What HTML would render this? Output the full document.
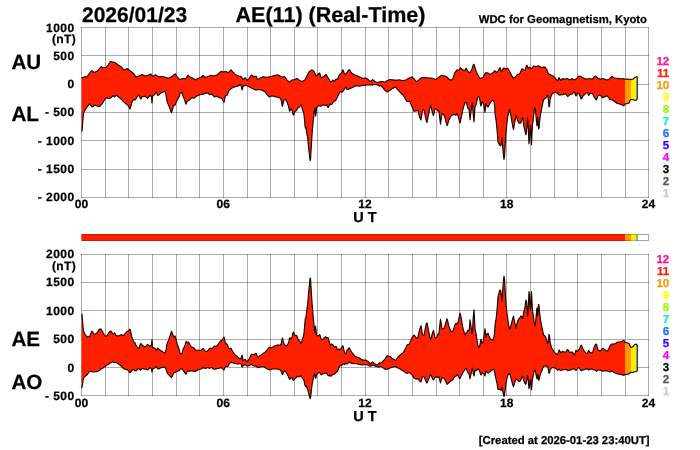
<!DOCTYPE html>
<html><head><meta charset="utf-8"><title>AE(11) Real-Time</title>
<style>
html,body{margin:0;padding:0;background:#fff;}
body{width:700px;height:450px;overflow:hidden;font-family:"Liberation Sans",sans-serif;}
svg{display:block;will-change:transform;}
</style></head><body>
<svg width="700" height="450" viewBox="0 0 700 450">
<rect x="0" y="0" width="700" height="450" fill="#ffffff"/>
<g stroke="#000" stroke-opacity="0.32" stroke-width="1" shape-rendering="crispEdges"><line x1="81.5" y1="27" x2="81.5" y2="198"/><line x1="105.5" y1="27" x2="105.5" y2="198"/><line x1="128.5" y1="27" x2="128.5" y2="198"/><line x1="152.5" y1="27" x2="152.5" y2="198"/><line x1="176.5" y1="27" x2="176.5" y2="198"/><line x1="199.5" y1="27" x2="199.5" y2="198"/><line x1="223.5" y1="27" x2="223.5" y2="198"/><line x1="247.5" y1="27" x2="247.5" y2="198"/><line x1="270.5" y1="27" x2="270.5" y2="198"/><line x1="294.5" y1="27" x2="294.5" y2="198"/><line x1="317.5" y1="27" x2="317.5" y2="198"/><line x1="341.5" y1="27" x2="341.5" y2="198"/><line x1="365.5" y1="27" x2="365.5" y2="198"/><line x1="388.5" y1="27" x2="388.5" y2="198"/><line x1="412.5" y1="27" x2="412.5" y2="198"/><line x1="436.5" y1="27" x2="436.5" y2="198"/><line x1="459.5" y1="27" x2="459.5" y2="198"/><line x1="483.5" y1="27" x2="483.5" y2="198"/><line x1="506.5" y1="27" x2="506.5" y2="198"/><line x1="530.5" y1="27" x2="530.5" y2="198"/><line x1="554.5" y1="27" x2="554.5" y2="198"/><line x1="577.5" y1="27" x2="577.5" y2="198"/><line x1="601.5" y1="27" x2="601.5" y2="198"/><line x1="625.5" y1="27" x2="625.5" y2="198"/><line x1="648.5" y1="27" x2="648.5" y2="198"/><line x1="81" y1="27.5" x2="649" y2="27.5"/><line x1="81" y1="55.5" x2="649" y2="55.5"/><line x1="81" y1="84.5" x2="649" y2="84.5"/><line x1="81" y1="112.5" x2="649" y2="112.5"/><line x1="81" y1="140.5" x2="649" y2="140.5"/><line x1="81" y1="169.5" x2="649" y2="169.5"/><line x1="81" y1="197.5" x2="649" y2="197.5"/></g>
<g stroke="#000" stroke-opacity="0.32" stroke-width="1" shape-rendering="crispEdges"><line x1="81.5" y1="254" x2="81.5" y2="396"/><line x1="105.5" y1="254" x2="105.5" y2="396"/><line x1="128.5" y1="254" x2="128.5" y2="396"/><line x1="152.5" y1="254" x2="152.5" y2="396"/><line x1="176.5" y1="254" x2="176.5" y2="396"/><line x1="199.5" y1="254" x2="199.5" y2="396"/><line x1="223.5" y1="254" x2="223.5" y2="396"/><line x1="247.5" y1="254" x2="247.5" y2="396"/><line x1="270.5" y1="254" x2="270.5" y2="396"/><line x1="294.5" y1="254" x2="294.5" y2="396"/><line x1="317.5" y1="254" x2="317.5" y2="396"/><line x1="341.5" y1="254" x2="341.5" y2="396"/><line x1="365.5" y1="254" x2="365.5" y2="396"/><line x1="388.5" y1="254" x2="388.5" y2="396"/><line x1="412.5" y1="254" x2="412.5" y2="396"/><line x1="436.5" y1="254" x2="436.5" y2="396"/><line x1="459.5" y1="254" x2="459.5" y2="396"/><line x1="483.5" y1="254" x2="483.5" y2="396"/><line x1="506.5" y1="254" x2="506.5" y2="396"/><line x1="530.5" y1="254" x2="530.5" y2="396"/><line x1="554.5" y1="254" x2="554.5" y2="396"/><line x1="577.5" y1="254" x2="577.5" y2="396"/><line x1="601.5" y1="254" x2="601.5" y2="396"/><line x1="625.5" y1="254" x2="625.5" y2="396"/><line x1="648.5" y1="254" x2="648.5" y2="396"/><line x1="81" y1="254.5" x2="649" y2="254.5"/><line x1="81" y1="282.5" x2="649" y2="282.5"/><line x1="81" y1="310.5" x2="649" y2="310.5"/><line x1="81" y1="339.5" x2="649" y2="339.5"/><line x1="81" y1="367.5" x2="649" y2="367.5"/><line x1="81" y1="395.5" x2="649" y2="395.5"/></g>
<polygon points="81.5,78.0 82.0,77.8 82.5,77.6 83.0,77.4 83.5,77.2 84.0,77.0 84.5,76.8 85.0,76.8 85.5,76.8 86.0,76.8 86.5,76.8 87.0,76.8 87.5,76.0 88.0,75.3 88.5,74.5 89.0,73.9 89.5,73.3 90.0,72.6 90.5,72.0 91.0,71.4 91.5,70.8 92.0,70.8 92.5,71.2 93.0,71.6 93.5,72.0 94.0,72.4 94.5,72.2 95.0,72.1 95.5,71.9 96.0,71.7 96.5,71.5 97.0,71.4 97.5,70.9 98.0,70.3 98.5,69.7 99.0,69.1 99.5,68.5 100.0,67.9 100.5,67.3 101.0,66.7 101.5,66.9 102.0,67.1 102.5,67.4 103.0,67.6 103.5,67.7 104.0,67.7 104.5,67.6 105.0,67.5 105.5,67.5 106.0,67.1 106.5,66.6 107.0,66.1 107.5,65.6 108.0,65.1 108.5,64.3 109.0,63.6 109.5,62.8 110.0,62.0 110.5,61.6 111.0,61.7 111.5,61.8 112.0,61.9 112.5,62.0 113.0,62.1 113.5,62.2 114.0,62.3 114.5,62.4 115.0,62.5 115.5,62.9 116.0,63.3 116.5,63.7 117.0,64.2 117.5,64.6 118.0,65.0 118.5,65.3 119.0,65.6 119.5,65.8 120.0,66.1 120.5,66.3 121.0,66.6 121.5,67.0 122.0,67.7 122.5,68.4 123.0,69.0 123.5,69.7 124.0,69.6 124.5,69.5 125.0,69.4 125.5,69.2 126.0,69.1 126.5,68.9 127.0,68.8 127.5,68.7 128.0,69.1 128.5,69.5 129.0,69.9 129.5,70.3 130.0,70.7 130.5,71.1 131.0,71.5 131.5,71.9 132.0,72.3 132.5,72.7 133.0,73.1 133.5,73.5 134.0,74.2 134.5,74.9 135.0,75.6 135.5,76.4 136.0,77.1 136.5,76.9 137.0,76.7 137.5,76.6 138.0,76.4 138.5,76.2 139.0,76.0 139.5,75.8 140.0,75.5 140.5,75.3 141.0,75.0 141.5,74.8 142.0,74.5 142.5,74.6 143.0,75.0 143.5,75.3 144.0,75.6 144.5,76.0 145.0,75.9 145.5,75.8 146.0,75.7 146.5,75.6 147.0,75.5 147.5,75.4 148.0,75.3 148.5,75.2 149.0,74.9 149.5,74.6 150.0,74.4 150.5,74.1 151.0,74.2 151.5,74.8 152.0,75.3 152.5,75.8 153.0,76.4 153.5,76.2 154.0,75.8 154.5,75.4 155.0,75.1 155.5,74.8 156.0,75.1 156.5,75.4 157.0,75.8 157.5,76.1 158.0,76.4 158.5,76.7 159.0,76.7 159.5,76.7 160.0,76.6 160.5,76.6 161.0,76.5 161.5,76.5 162.0,76.5 162.5,76.6 163.0,76.7 163.5,76.8 164.0,76.9 164.5,77.0 165.0,77.2 165.5,77.3 166.0,77.5 166.5,77.6 167.0,77.8 167.5,78.0 168.0,78.1 168.5,78.3 169.0,78.1 169.5,77.8 170.0,77.5 170.5,77.2 171.0,76.9 171.5,76.6 172.0,76.3 172.5,76.0 173.0,75.6 173.5,75.1 174.0,74.7 174.5,74.3 175.0,73.8 175.5,74.2 176.0,74.9 176.5,75.7 177.0,76.5 177.5,77.1 178.0,77.6 178.5,78.2 179.0,78.7 179.5,79.2 180.0,79.6 180.5,79.4 181.0,79.2 181.5,79.0 182.0,78.8 182.5,78.6 183.0,78.4 183.5,78.5 184.0,78.6 184.5,78.8 185.0,79.0 185.5,79.0 186.0,78.3 186.5,77.6 187.0,76.8 187.5,76.1 188.0,75.3 188.5,75.6 189.0,76.1 189.5,76.5 190.0,77.0 190.5,77.2 191.0,77.4 191.5,77.6 192.0,77.8 192.5,78.1 193.0,78.4 193.5,78.7 194.0,79.0 194.5,79.3 195.0,79.6 195.5,79.9 196.0,79.6 196.5,79.3 197.0,78.9 197.5,78.6 198.0,78.3 198.5,78.2 199.0,78.0 199.5,77.9 200.0,77.8 200.5,77.7 201.0,77.5 201.5,77.0 202.0,76.5 202.5,76.0 203.0,75.5 203.5,75.5 204.0,76.2 204.5,77.0 205.0,77.5 205.5,77.3 206.0,77.2 206.5,77.0 207.0,76.8 207.5,76.6 208.0,76.5 208.5,76.3 209.0,76.1 209.5,75.9 210.0,75.7 210.5,75.5 211.0,75.3 211.5,75.3 212.0,75.5 212.5,75.7 213.0,75.8 213.5,76.0 214.0,75.8 214.5,75.7 215.0,75.6 215.5,75.4 216.0,75.3 216.5,75.1 217.0,75.0 217.5,74.7 218.0,74.2 218.5,73.7 219.0,73.1 219.5,72.6 220.0,72.2 220.5,71.8 221.0,71.5 221.5,71.4 222.0,71.6 222.5,71.8 223.0,71.9 223.5,72.1 224.0,72.0 224.5,71.8 225.0,71.6 225.5,71.5 226.0,71.4 226.5,71.7 227.0,72.1 227.5,72.4 228.0,72.7 228.5,72.6 229.0,72.0 229.5,71.5 230.0,70.9 230.5,70.3 231.0,69.8 231.5,70.4 232.0,71.0 232.5,71.6 233.0,72.2 233.5,72.7 234.0,73.2 234.5,73.7 235.0,74.2 235.5,74.6 236.0,74.8 236.5,75.1 237.0,75.3 237.5,75.6 238.0,75.8 238.5,76.0 239.0,76.2 239.5,76.3 240.0,76.4 240.5,76.5 241.0,76.7 241.5,76.9 242.0,77.8 242.5,78.7 243.0,79.6 243.5,79.1 244.0,78.7 244.5,78.3 245.0,77.8 245.5,77.9 246.0,78.7 246.5,79.5 247.0,80.4 247.5,80.3 248.0,79.7 248.5,79.1 249.0,78.6 249.5,77.9 250.0,77.2 250.5,76.4 251.0,75.7 251.5,75.0 252.0,75.3 252.5,75.7 253.0,76.1 253.5,76.5 254.0,76.7 254.5,76.6 255.0,76.4 255.5,76.2 256.0,76.1 256.5,76.7 257.0,78.0 257.5,79.2 258.0,79.7 258.5,79.3 259.0,78.9 259.5,78.5 260.0,78.1 260.5,77.9 261.0,77.7 261.5,77.5 262.0,77.3 262.5,77.1 263.0,76.9 263.5,76.8 264.0,76.9 264.5,77.0 265.0,77.0 265.5,77.1 266.0,77.2 266.5,77.2 267.0,77.2 267.5,77.1 268.0,77.0 268.5,77.0 269.0,76.9 269.5,76.9 270.0,76.8 270.5,76.7 271.0,76.5 271.5,76.4 272.0,76.2 272.5,76.0 273.0,75.9 273.5,75.7 274.0,75.6 274.5,75.4 275.0,75.3 275.5,75.2 276.0,75.1 276.5,75.0 277.0,74.9 277.5,75.0 278.0,75.1 278.5,75.3 279.0,75.4 279.5,75.5 280.0,76.0 280.5,76.2 281.0,76.5 281.5,76.7 282.0,76.9 282.5,77.1 283.0,77.0 283.5,76.9 284.0,76.9 284.5,76.8 285.0,77.2 285.5,77.9 286.0,78.6 286.5,79.2 287.0,79.9 287.5,80.5 288.0,81.0 288.5,81.6 289.0,82.2 289.5,81.8 290.0,81.5 290.5,81.1 291.0,80.7 291.5,80.3 292.0,80.1 292.5,80.0 293.0,79.9 293.5,79.8 294.0,79.7 294.5,79.6 295.0,79.5 295.5,79.2 296.0,78.9 296.5,78.7 297.0,78.4 297.5,78.7 298.0,79.2 298.5,79.7 299.0,80.2 299.5,80.7 300.0,80.8 300.5,80.9 301.0,81.1 301.5,81.2 302.0,81.3 302.5,81.4 303.0,81.1 303.5,80.8 304.0,80.5 304.5,80.1 305.0,79.7 305.5,78.7 306.0,77.7 306.5,76.7 307.0,75.7 307.5,74.7 308.0,73.9 308.5,73.1 309.0,72.2 309.5,71.4 310.0,71.0 310.5,70.7 311.0,70.4 311.5,70.0 312.0,69.9 312.5,70.3 313.0,70.6 313.5,71.0 314.0,71.5 314.5,72.6 315.0,73.7 315.5,74.8 316.0,75.8 316.5,75.7 317.0,75.3 317.5,74.9 318.0,74.5 318.5,74.0 319.0,73.5 319.5,73.0 320.0,74.0 320.5,75.7 321.0,77.3 321.5,77.8 322.0,77.5 322.5,77.2 323.0,76.8 323.5,76.5 324.0,76.1 324.5,75.6 325.0,75.2 325.5,74.8 326.0,74.6 326.5,75.4 327.0,76.2 327.5,76.9 328.0,77.7 328.5,78.5 329.0,79.4 329.5,80.3 330.0,81.2 330.5,82.1 331.0,81.8 331.5,81.3 332.0,80.8 332.5,80.3 333.0,80.0 333.5,80.7 334.0,81.3 334.5,81.0 335.0,80.3 335.5,79.7 336.0,79.1 336.5,79.3 337.0,79.4 337.5,79.6 338.0,78.3 338.5,76.9 339.0,75.5 339.5,74.8 340.0,74.3 340.5,73.8 341.0,73.3 341.5,72.7 342.0,71.7 342.5,70.7 343.0,69.8 343.5,71.3 344.0,72.8 344.5,74.3 345.0,74.1 345.5,73.8 346.0,73.5 346.5,73.1 347.0,72.7 347.5,71.9 348.0,71.2 348.5,70.4 349.0,69.6 349.5,69.8 350.0,70.5 350.5,71.3 351.0,72.1 351.5,72.8 352.0,73.2 352.5,73.5 353.0,73.8 353.5,74.2 354.0,74.5 354.5,74.8 355.0,75.0 355.5,75.2 356.0,75.4 356.5,75.6 357.0,75.8 357.5,76.0 358.0,76.2 358.5,76.4 359.0,76.7 359.5,76.9 360.0,77.2 360.5,77.4 361.0,77.6 361.5,77.9 362.0,78.1 362.5,78.3 363.0,78.3 363.5,78.2 364.0,78.2 364.5,78.1 365.0,78.1 365.5,78.0 366.0,78.2 366.5,78.5 367.0,78.7 367.5,78.9 368.0,79.3 368.5,79.8 369.0,80.4 369.5,81.0 370.0,81.5 370.5,81.5 371.0,81.0 371.5,80.5 372.0,80.1 372.5,79.6 373.0,79.9 373.5,80.3 374.0,80.7 374.5,81.1 375.0,81.5 375.5,81.8 376.0,82.0 376.5,82.3 377.0,82.6 377.5,82.6 378.0,82.4 378.5,82.2 379.0,82.0 379.5,81.8 380.0,81.7 380.5,81.7 381.0,81.6 381.5,81.5 382.0,81.5 382.5,81.5 383.0,81.7 383.5,81.8 384.0,82.0 384.5,82.2 385.0,82.0 385.5,81.7 386.0,81.3 386.5,81.0 387.0,80.7 387.5,80.5 388.0,80.3 388.5,80.1 389.0,80.0 389.5,79.8 390.0,79.6 390.5,79.6 391.0,79.7 391.5,79.7 392.0,79.8 392.5,79.8 393.0,79.9 393.5,79.9 394.0,80.0 394.5,80.0 395.0,80.1 395.5,80.1 396.0,80.2 396.5,80.2 397.0,80.1 397.5,80.1 398.0,80.0 398.5,80.0 399.0,79.9 399.5,79.9 400.0,80.0 400.5,80.1 401.0,80.3 401.5,80.4 402.0,80.5 402.5,80.6 403.0,80.6 403.5,80.5 404.0,80.4 404.5,80.4 405.0,80.3 405.5,80.2 406.0,80.0 406.5,79.6 407.0,79.3 407.5,79.0 408.0,78.6 408.5,78.4 409.0,78.2 409.5,77.9 410.0,77.7 410.5,77.5 411.0,77.2 411.5,77.0 412.0,76.9 412.5,77.4 413.0,77.9 413.5,78.4 414.0,78.9 414.5,79.5 415.0,80.0 415.5,80.6 416.0,81.1 416.5,81.7 417.0,81.4 417.5,81.0 418.0,80.6 418.5,80.2 419.0,79.8 419.5,79.4 420.0,79.0 420.5,78.5 421.0,78.1 421.5,77.7 422.0,77.6 422.5,77.6 423.0,77.6 423.5,77.6 424.0,77.6 424.5,77.6 425.0,77.6 425.5,77.6 426.0,77.7 426.5,77.8 427.0,77.8 427.5,77.9 428.0,78.0 428.5,78.0 429.0,78.0 429.5,78.0 430.0,78.0 430.5,78.0 431.0,78.0 431.5,78.1 432.0,78.2 432.5,78.3 433.0,78.5 433.5,78.6 434.0,78.8 434.5,79.0 435.0,79.3 435.5,79.5 436.0,79.3 436.5,78.9 437.0,78.6 437.5,78.2 438.0,77.8 438.5,77.4 439.0,77.0 439.5,76.7 440.0,76.3 440.5,75.9 441.0,75.5 441.5,75.2 442.0,75.4 442.5,75.5 443.0,75.6 443.5,75.7 444.0,75.9 444.5,76.0 445.0,76.1 445.5,76.3 446.0,76.5 446.5,76.6 447.0,76.9 447.5,77.5 448.0,78.1 448.5,78.7 449.0,79.3 449.5,79.7 450.0,79.8 450.5,79.9 451.0,80.1 451.5,80.2 452.0,79.6 452.5,79.0 453.0,78.4 453.5,76.9 454.0,75.2 454.5,73.4 455.0,72.4 455.5,71.8 456.0,71.1 456.5,70.4 457.0,69.8 457.5,70.0 458.0,70.3 458.5,70.5 459.0,69.9 459.5,69.2 460.0,68.5 460.5,67.8 461.0,68.2 461.5,68.8 462.0,69.3 462.5,69.8 463.0,70.0 463.5,70.1 464.0,70.3 464.5,70.5 465.0,70.1 465.5,69.2 466.0,68.2 466.5,69.0 467.0,69.9 467.5,70.7 468.0,71.5 468.5,72.0 469.0,72.5 469.5,72.8 470.0,72.1 470.5,71.5 471.0,70.8 471.5,70.1 472.0,69.0 472.5,67.5 473.0,66.0 473.5,64.4 474.0,64.3 474.5,66.0 475.0,67.6 475.5,69.3 476.0,70.7 476.5,71.9 477.0,73.2 477.5,74.2 478.0,75.0 478.5,75.9 479.0,76.8 479.5,77.6 480.0,78.3 480.5,78.2 481.0,78.1 481.5,78.0 482.0,77.8 482.5,77.7 483.0,77.6 483.5,76.8 484.0,75.8 484.5,74.8 485.0,73.8 485.5,72.9 486.0,72.9 486.5,72.9 487.0,72.9 487.5,72.9 488.0,73.0 488.5,73.4 489.0,73.7 489.5,74.0 490.0,74.4 490.5,74.3 491.0,74.0 491.5,73.8 492.0,73.6 492.5,73.3 493.0,72.7 493.5,72.1 494.0,71.5 494.5,70.9 495.0,70.8 495.5,71.4 496.0,72.0 496.5,72.3 497.0,71.9 497.5,71.6 498.0,71.1 498.5,70.1 499.0,69.2 499.5,68.2 500.0,67.7 500.5,68.8 501.0,70.0 501.5,71.2 502.0,71.3 502.5,70.2 503.0,69.1 503.5,68.1 504.0,68.0 504.5,68.3 505.0,68.6 505.5,68.9 506.0,68.9 506.5,68.7 507.0,68.5 507.5,68.3 508.0,68.7 508.5,69.6 509.0,70.4 509.5,71.2 510.0,72.2 510.5,73.2 511.0,74.2 511.5,75.2 512.0,76.2 512.5,76.9 513.0,77.7 513.5,78.3 514.0,77.9 514.5,77.5 515.0,77.1 515.5,76.7 516.0,76.1 516.5,75.5 517.0,74.8 517.5,74.4 518.0,74.3 518.5,74.2 519.0,74.1 519.5,74.0 520.0,73.2 520.5,72.1 521.0,71.0 521.5,69.9 522.0,68.7 522.5,69.0 523.0,69.4 523.5,69.7 524.0,70.0 524.5,70.3 525.0,70.5 525.5,69.0 526.0,67.1 526.5,65.2 527.0,65.4 527.5,66.6 528.0,67.7 528.5,68.0 529.0,67.7 529.5,67.3 530.0,67.4 530.5,68.0 531.0,68.6 531.5,68.8 532.0,68.1 532.5,67.4 533.0,66.8 533.5,66.1 534.0,66.0 534.5,66.2 535.0,66.3 535.5,66.5 536.0,66.7 536.5,66.4 537.0,66.2 537.5,66.0 538.0,65.7 538.5,65.7 539.0,66.1 539.5,66.5 540.0,66.9 540.5,67.3 541.0,67.4 541.5,67.3 542.0,67.3 542.5,67.2 543.0,67.1 543.5,67.1 544.0,67.1 544.5,67.1 545.0,67.1 545.5,67.8 546.0,68.5 546.5,69.2 547.0,70.3 547.5,71.5 548.0,72.7 548.5,73.7 549.0,74.0 549.5,74.2 550.0,74.5 550.5,74.8 551.0,75.0 551.5,75.3 552.0,75.5 552.5,75.7 553.0,76.0 553.5,76.4 554.0,76.9 554.5,77.4 555.0,77.9 555.5,78.4 556.0,79.0 556.5,79.6 557.0,80.2 557.5,80.8 558.0,80.4 558.5,79.0 559.0,77.6 559.5,78.4 560.0,79.2 560.5,80.0 561.0,80.5 561.5,79.8 562.0,79.2 562.5,78.7 563.0,78.8 563.5,78.9 564.0,79.0 564.5,79.1 565.0,79.0 565.5,78.9 566.0,78.7 566.5,78.5 567.0,78.4 567.5,78.6 568.0,78.9 568.5,79.3 569.0,79.6 569.5,79.9 570.0,79.6 570.5,79.4 571.0,79.2 571.5,79.0 572.0,78.8 572.5,78.7 573.0,79.0 573.5,79.3 574.0,79.5 574.5,79.8 575.0,79.7 575.5,79.3 576.0,79.0 576.5,78.7 577.0,78.3 577.5,77.6 578.0,76.8 578.5,76.1 579.0,76.1 579.5,76.2 580.0,76.3 580.5,76.4 581.0,76.5 581.5,76.9 582.0,77.2 582.5,77.5 583.0,77.9 583.5,78.1 584.0,78.4 584.5,78.6 585.0,78.8 585.5,79.1 586.0,79.0 586.5,79.0 587.0,78.9 587.5,78.8 588.0,78.7 588.5,78.7 589.0,78.7 589.5,78.7 590.0,78.8 590.5,78.9 591.0,78.9 591.5,79.0 592.0,79.0 592.5,79.1 593.0,78.4 593.5,77.7 594.0,76.9 594.5,76.6 595.0,76.3 595.5,76.1 596.0,76.3 596.5,76.8 597.0,77.3 597.5,77.8 598.0,78.3 598.5,78.5 599.0,78.7 599.5,78.8 600.0,79.0 600.5,79.1 601.0,79.0 601.5,78.9 602.0,78.9 602.5,78.8 603.0,78.7 603.5,78.7 604.0,78.9 604.5,79.1 605.0,79.3 605.5,79.5 606.0,79.7 606.5,79.9 607.0,79.8 607.5,79.8 608.0,79.7 608.5,79.6 609.0,79.4 609.5,78.8 610.0,78.1 610.5,77.5 611.0,77.2 611.5,76.8 612.0,76.5 612.5,76.8 613.0,77.1 613.5,77.5 614.0,77.8 614.5,78.0 615.0,78.1 615.5,78.2 616.0,78.2 616.5,78.3 617.0,78.4 617.5,78.4 618.0,78.5 618.5,78.5 619.0,78.6 619.5,78.6 620.0,78.7 620.5,78.7 621.0,78.7 621.5,78.7 622.0,78.8 622.5,78.8 623.0,78.8 623.5,78.9 624.0,78.9 624.5,79.0 625.0,79.1 625.0,104.3 624.5,104.9 624.0,105.6 623.5,105.9 623.0,105.5 622.5,105.1 622.0,104.7 621.5,104.6 621.0,104.4 620.5,104.2 620.0,104.1 619.5,103.9 619.0,103.8 618.5,103.7 618.0,103.6 617.5,103.5 617.0,103.2 616.5,102.9 616.0,102.6 615.5,102.2 615.0,101.9 614.5,101.5 614.0,101.1 613.5,100.7 613.0,100.3 612.5,100.0 612.0,99.9 611.5,99.8 611.0,99.7 610.5,99.5 610.0,99.4 609.5,99.1 609.0,98.3 608.5,97.5 608.0,96.8 607.5,96.0 607.0,95.9 606.5,96.1 606.0,96.3 605.5,96.5 605.0,96.7 604.5,96.9 604.0,97.1 603.5,97.4 603.0,97.6 602.5,97.6 602.0,97.0 601.5,96.5 601.0,95.9 600.5,95.3 600.0,95.2 599.5,95.3 599.0,95.5 598.5,95.6 598.0,95.7 597.5,97.1 597.0,98.5 596.5,99.9 596.0,99.6 595.5,98.9 595.0,98.3 594.5,97.6 594.0,96.6 593.5,95.5 593.0,94.5 592.5,93.6 592.0,93.5 591.5,93.4 591.0,93.3 590.5,93.2 590.0,93.5 589.5,94.3 589.0,95.2 588.5,95.3 588.0,93.9 587.5,92.5 587.0,92.6 586.5,92.9 586.0,93.3 585.5,93.6 585.0,94.1 584.5,94.6 584.0,95.0 583.5,95.5 583.0,96.1 582.5,97.0 582.0,97.9 581.5,98.8 581.0,98.7 580.5,97.3 580.0,95.8 579.5,94.4 579.0,93.7 578.5,93.5 578.0,93.3 577.5,93.1 577.0,94.0 576.5,95.0 576.0,96.0 575.5,95.0 575.0,93.5 574.5,92.0 574.0,92.0 573.5,92.5 573.0,93.1 572.5,93.7 572.0,94.0 571.5,94.1 571.0,94.3 570.5,94.5 570.0,94.6 569.5,94.8 569.0,95.3 568.5,95.9 568.0,96.5 567.5,96.2 567.0,95.6 566.5,95.0 566.0,94.4 565.5,93.9 565.0,94.0 564.5,94.1 564.0,94.3 563.5,94.4 563.0,94.5 562.5,94.6 562.0,94.7 561.5,94.8 561.0,94.9 560.5,94.9 560.0,95.0 559.5,95.1 559.0,94.8 558.5,94.3 558.0,93.8 557.5,93.4 557.0,93.1 556.5,92.7 556.0,92.4 555.5,92.1 555.0,92.2 554.5,92.4 554.0,92.7 553.5,92.9 553.0,93.2 552.5,93.7 552.0,94.2 551.5,94.8 551.0,96.5 550.5,98.3 550.0,100.0 549.5,105.9 549.0,107.0 548.5,101.0 548.0,97.1 547.5,95.0 547.0,96.0 546.5,97.0 546.0,97.8 545.5,98.2 545.0,98.5 544.5,98.8 544.0,99.2 543.5,99.9 543.0,102.2 542.5,104.7 542.0,107.2 541.5,109.7 541.0,112.2 540.5,114.8 540.0,118.4 539.5,122.2 539.0,128.2 538.5,128.9 538.0,120.2 537.5,117.3 537.0,125.8 536.5,121.8 536.0,116.2 535.5,110.5 535.0,107.6 534.5,108.4 534.0,112.2 533.5,117.2 533.0,121.2 532.5,124.8 532.0,133.5 531.5,144.8 531.0,134.3 530.5,125.3 530.0,129.3 529.5,139.8 529.0,143.8 528.5,133.3 528.0,121.6 527.5,118.0 527.0,126.3 526.5,131.2 526.0,134.7 525.5,133.8 525.0,130.8 524.5,128.3 524.0,126.9 523.5,124.1 523.0,118.7 522.5,117.7 522.0,119.4 521.5,120.9 521.0,122.4 520.5,123.1 520.0,123.1 519.5,123.1 519.0,123.1 518.5,122.3 518.0,121.3 517.5,120.3 517.0,118.6 516.5,116.8 516.0,115.3 515.5,118.0 515.0,120.8 514.5,123.6 514.0,126.6 513.5,129.6 513.0,127.7 512.5,125.1 512.0,122.3 511.5,119.3 511.0,116.3 510.5,113.6 510.0,111.4 509.5,109.5 509.0,111.2 508.5,113.0 508.0,115.1 507.5,118.8 507.0,122.6 506.5,127.4 506.0,132.4 505.5,140.1 505.0,148.4 504.5,156.7 504.0,159.5 503.5,155.8 503.0,150.5 502.5,144.6 502.0,137.7 501.5,141.5 501.0,145.2 500.5,145.8 500.0,145.3 499.5,144.8 499.0,143.9 498.5,142.9 498.0,141.9 497.5,135.0 497.0,129.1 496.5,124.1 496.0,120.0 495.5,116.9 495.0,112.8 494.5,104.8 494.0,102.1 493.5,101.1 493.0,100.1 492.5,100.4 492.0,100.9 491.5,101.4 491.0,101.9 490.5,102.6 490.0,103.3 489.5,104.1 489.0,105.2 488.5,106.4 488.0,107.0 487.5,106.5 487.0,106.0 486.5,105.0 486.0,103.3 485.5,107.3 485.0,112.5 484.5,109.4 484.0,106.3 483.5,104.0 483.0,103.0 482.5,102.0 482.0,101.7 481.5,103.9 481.0,106.1 480.5,104.3 480.0,101.0 479.5,97.8 479.0,96.6 478.5,96.7 478.0,96.8 477.5,98.1 477.0,100.5 476.5,102.9 476.0,104.7 475.5,105.7 475.0,106.6 474.5,114.3 474.0,122.0 473.5,117.4 473.0,112.0 472.5,103.0 472.0,102.6 471.5,107.3 471.0,111.6 470.5,115.7 470.0,119.8 469.5,113.1 469.0,108.9 468.5,108.6 468.0,108.4 467.5,107.5 467.0,105.0 466.5,102.8 466.0,102.7 465.5,102.6 465.0,102.5 464.5,104.1 464.0,105.7 463.5,107.3 463.0,109.0 462.5,111.4 462.0,113.9 461.5,116.4 461.0,118.6 460.5,120.8 460.0,122.9 459.5,121.7 459.0,119.3 458.5,117.3 458.0,115.6 457.5,113.8 457.0,113.3 456.5,114.3 456.0,115.2 455.5,115.1 455.0,114.9 454.5,114.7 454.0,114.6 453.5,114.5 453.0,114.8 452.5,115.1 452.0,115.4 451.5,115.7 451.0,116.0 450.5,117.0 450.0,117.9 449.5,118.9 449.0,119.9 448.5,121.5 448.0,123.2 447.5,124.8 447.0,125.6 446.5,123.8 446.0,121.9 445.5,119.9 445.0,117.9 444.5,115.9 444.0,115.0 443.5,114.7 443.0,114.3 442.5,114.0 442.0,113.7 441.5,117.1 441.0,120.6 440.5,124.1 440.0,120.4 439.5,115.7 439.0,110.9 438.5,110.5 438.0,111.2 437.5,110.3 437.0,109.5 436.5,108.7 436.0,108.8 435.5,108.9 435.0,109.0 434.5,111.2 434.0,113.5 433.5,115.7 433.0,114.5 432.5,112.7 432.0,111.0 431.5,108.7 431.0,106.4 430.5,105.3 430.0,107.7 429.5,110.1 429.0,112.6 428.5,115.0 428.0,117.5 427.5,120.0 427.0,122.5 426.5,121.5 426.0,119.6 425.5,117.4 425.0,114.7 424.5,111.9 424.0,109.8 423.5,109.8 423.0,109.8 422.5,110.1 422.0,113.4 421.5,116.6 421.0,119.9 420.5,118.9 420.0,117.9 419.5,116.9 419.0,114.9 418.5,112.8 418.0,110.7 417.5,110.4 417.0,110.6 416.5,110.8 416.0,110.9 415.5,111.0 415.0,111.1 414.5,111.2 414.0,111.3 413.5,110.2 413.0,109.0 412.5,107.8 412.0,106.7 411.5,105.6 411.0,104.6 410.5,103.6 410.0,102.6 409.5,101.6 409.0,101.3 408.5,101.3 408.0,101.4 407.5,101.5 407.0,101.5 406.5,100.7 406.0,99.9 405.5,99.0 405.0,98.2 404.5,97.3 404.0,96.5 403.5,95.7 403.0,94.9 402.5,94.6 402.0,94.1 401.5,93.6 401.0,93.1 400.5,92.6 400.0,92.1 399.5,91.6 399.0,91.1 398.5,90.6 398.0,90.1 397.5,89.5 397.0,88.8 396.5,88.1 396.0,87.5 395.5,86.9 395.0,87.2 394.5,87.4 394.0,87.7 393.5,87.9 393.0,88.2 392.5,88.4 392.0,88.8 391.5,89.1 391.0,89.5 390.5,89.9 390.0,90.3 389.5,90.6 389.0,90.9 388.5,91.2 388.0,91.5 387.5,91.7 387.0,92.0 386.5,91.6 386.0,91.1 385.5,90.7 385.0,90.3 384.5,89.8 384.0,89.1 383.5,88.4 383.0,87.8 382.5,87.1 382.0,86.7 381.5,86.3 381.0,86.0 380.5,85.7 380.0,85.3 379.5,86.1 379.0,85.8 378.5,85.6 378.0,85.3 377.5,85.1 377.0,84.8 376.5,84.6 376.0,84.6 375.5,84.6 375.0,84.6 374.5,84.7 374.0,84.7 373.5,84.7 373.0,84.8 372.5,84.8 372.0,84.8 371.5,84.9 371.0,84.9 370.5,84.9 370.0,84.9 369.5,84.9 369.0,85.0 368.5,85.0 368.0,85.0 367.5,85.0 367.0,85.0 366.5,85.1 366.0,85.1 365.5,85.1 365.0,85.2 364.5,85.2 364.0,85.3 363.5,85.3 363.0,85.4 362.5,85.5 362.0,85.6 361.5,85.7 361.0,85.8 360.5,85.9 360.0,86.0 359.5,86.1 359.0,86.1 358.5,86.0 358.0,86.0 357.5,86.0 357.0,85.9 356.5,85.9 356.0,85.8 355.5,85.8 355.0,86.0 354.5,86.3 354.0,86.6 353.5,86.9 353.0,87.2 352.5,87.5 352.0,87.8 351.5,88.0 351.0,88.2 350.5,88.4 350.0,88.6 349.5,88.8 349.0,89.0 348.5,89.1 348.0,89.2 347.5,89.4 347.0,89.5 346.5,88.3 346.0,87.0 345.5,87.7 345.0,88.3 344.5,89.0 344.0,89.7 343.5,90.4 343.0,91.1 342.5,91.9 342.0,92.3 341.5,92.1 341.0,91.9 340.5,91.8 340.0,91.6 339.5,92.5 339.0,93.7 338.5,95.0 338.0,96.1 337.5,97.1 337.0,98.1 336.5,99.1 336.0,100.1 335.5,100.4 335.0,100.8 334.5,101.1 334.0,101.4 333.5,101.9 333.0,102.5 332.5,103.2 332.0,103.9 331.5,104.5 331.0,104.6 330.5,104.4 330.0,104.1 329.5,104.7 329.0,105.9 328.5,107.2 328.0,107.5 327.5,106.5 327.0,105.5 326.5,104.8 326.0,105.1 325.5,105.3 325.0,105.5 324.5,105.3 324.0,105.2 323.5,105.0 323.0,104.8 322.5,105.0 322.0,105.4 321.5,105.7 321.0,106.1 320.5,106.2 320.0,106.0 319.5,105.8 319.0,105.6 318.5,105.8 318.0,106.1 317.5,106.3 317.0,107.1 316.5,108.3 316.0,113.7 315.5,116.1 315.0,108.1 314.5,109.6 314.0,113.5 313.5,118.5 313.0,123.5 312.5,128.5 312.0,135.4 311.5,143.1 311.0,151.7 310.5,160.3 310.0,160.2 309.5,155.6 309.0,151.3 308.5,146.8 308.0,141.0 307.5,136.6 307.0,134.5 306.5,131.6 306.0,127.6 305.5,128.4 305.0,125.8 304.5,119.9 304.0,114.9 303.5,112.3 303.0,111.3 302.5,109.7 302.0,107.8 301.5,106.1 301.0,104.8 300.5,105.5 300.0,106.3 299.5,107.0 299.0,107.3 298.5,107.6 298.0,107.8 297.5,108.6 297.0,109.5 296.5,110.4 296.0,110.9 295.5,111.3 295.0,111.6 294.5,112.5 294.0,113.7 293.5,115.0 293.0,114.6 292.5,112.1 292.0,110.0 291.5,109.4 291.0,108.8 290.5,109.6 290.0,110.9 289.5,111.1 289.0,108.6 288.5,106.2 288.0,104.7 287.5,103.2 287.0,101.7 286.5,100.9 286.0,100.2 285.5,99.4 285.0,99.5 284.5,99.8 284.0,100.0 283.5,101.8 283.0,104.1 282.5,106.3 282.0,105.0 281.5,101.7 281.0,99.6 280.5,98.7 280.0,97.8 279.5,97.8 279.0,97.6 278.5,97.5 278.0,97.3 277.5,97.2 277.0,97.1 276.5,97.0 276.0,96.9 275.5,96.8 275.0,96.7 274.5,96.6 274.0,96.4 273.5,96.3 273.0,96.1 272.5,96.0 272.0,95.8 271.5,95.9 271.0,96.2 270.5,96.4 270.0,96.7 269.5,97.0 269.0,96.6 268.5,96.1 268.0,95.6 267.5,95.1 267.0,94.5 266.5,93.9 266.0,93.2 265.5,92.5 265.0,91.9 264.5,91.4 264.0,91.2 263.5,90.9 263.0,90.7 262.5,90.4 262.0,90.2 261.5,90.0 261.0,89.9 260.5,89.8 260.0,89.7 259.5,89.7 259.0,89.6 258.5,89.5 258.0,89.6 257.5,89.7 257.0,89.8 256.5,89.8 256.0,89.9 255.5,90.0 255.0,89.8 254.5,89.5 254.0,89.3 253.5,89.0 253.0,88.8 252.5,88.5 252.0,88.3 251.5,88.0 251.0,87.8 250.5,87.5 250.0,87.3 249.5,87.0 249.0,86.8 248.5,86.5 248.0,86.3 247.5,86.0 247.0,85.8 246.5,85.5 246.0,85.4 245.5,85.5 245.0,85.6 244.5,85.7 244.0,85.9 243.5,86.0 243.0,86.1 242.5,89.2 242.0,90.0 241.5,87.3 241.0,85.6 240.5,84.6 240.0,84.9 239.5,85.1 239.0,85.4 238.5,85.6 238.0,85.9 237.5,86.1 237.0,86.2 236.5,86.4 236.0,86.5 235.5,86.6 235.0,86.7 234.5,86.9 234.0,87.1 233.5,87.3 233.0,87.6 232.5,87.8 232.0,88.1 231.5,88.3 231.0,88.7 230.5,89.1 230.0,89.6 229.5,90.0 229.0,90.4 228.5,91.9 228.0,93.4 227.5,94.9 227.0,95.2 226.5,95.3 226.0,95.3 225.5,95.4 225.0,97.5 224.5,100.0 224.0,102.4 223.5,101.4 223.0,100.5 222.5,99.5 222.0,98.6 221.5,98.4 221.0,98.2 220.5,98.0 220.0,97.9 219.5,97.7 219.0,97.4 218.5,97.2 218.0,96.9 217.5,96.7 217.0,96.4 216.5,96.2 216.0,96.4 215.5,96.6 215.0,96.7 214.5,96.9 214.0,96.7 213.5,96.0 213.0,95.4 212.5,94.7 212.0,94.0 211.5,94.0 211.0,94.2 210.5,94.3 210.0,94.5 209.5,94.6 209.0,94.2 208.5,93.7 208.0,93.3 207.5,92.9 207.0,92.7 206.5,92.9 206.0,93.1 205.5,93.3 205.0,93.5 204.5,93.7 204.0,93.9 203.5,94.1 203.0,94.2 202.5,94.3 202.0,94.4 201.5,94.5 201.0,94.5 200.5,94.6 200.0,94.7 199.5,94.9 199.0,95.1 198.5,95.3 198.0,95.4 197.5,95.6 197.0,95.8 196.5,96.2 196.0,96.6 195.5,97.0 195.0,97.4 194.5,97.8 194.0,98.2 193.5,98.1 193.0,98.0 192.5,97.9 192.0,97.8 191.5,97.9 191.0,98.4 190.5,98.9 190.0,99.4 189.5,99.9 189.0,100.3 188.5,100.5 188.0,100.8 187.5,101.1 187.0,101.3 186.5,102.8 186.0,104.2 185.5,103.0 185.0,101.3 184.5,99.7 184.0,98.4 183.5,97.2 183.0,95.9 182.5,94.3 182.0,92.7 181.5,92.5 181.0,92.7 180.5,92.9 180.0,93.1 179.5,95.8 179.0,96.7 178.5,97.7 178.0,98.6 177.5,99.5 177.0,100.6 176.5,101.7 176.0,102.9 175.5,104.1 175.0,105.2 174.5,105.2 174.0,104.7 173.5,105.7 173.0,107.9 172.5,109.5 172.0,111.1 171.5,112.7 171.0,111.6 170.5,110.3 170.0,108.9 169.5,107.7 169.0,106.4 168.5,105.2 168.0,103.9 167.5,102.7 167.0,101.1 166.5,98.0 166.0,94.8 165.5,93.0 165.0,91.7 164.5,91.2 164.0,91.5 163.5,91.7 163.0,92.0 162.5,92.3 162.0,92.5 161.5,92.8 161.0,93.0 160.5,93.4 160.0,93.8 159.5,94.3 159.0,94.7 158.5,95.1 158.0,95.5 157.5,95.0 157.0,93.7 156.5,92.3 156.0,92.0 155.5,93.0 155.0,94.0 154.5,94.8 154.0,95.1 153.5,95.5 153.0,95.8 152.5,96.2 152.0,103.0 151.5,96.9 151.0,96.3 150.5,95.7 150.0,95.1 149.5,95.8 149.0,96.6 148.5,97.3 148.0,98.0 147.5,98.4 147.0,97.9 146.5,97.4 146.0,96.9 145.5,96.4 145.0,96.3 144.5,96.3 144.0,96.4 143.5,96.5 143.0,96.6 142.5,96.6 142.0,97.0 141.5,97.9 141.0,98.7 140.5,98.9 140.0,97.6 139.5,96.2 139.0,95.2 138.5,95.5 138.0,95.9 137.5,96.3 137.0,97.1 136.5,98.0 136.0,98.8 135.5,99.6 135.0,100.0 134.5,99.7 134.0,99.5 133.5,99.6 133.0,100.3 132.5,101.1 132.0,102.0 131.5,103.9 131.0,105.7 130.5,107.6 130.0,109.0 129.5,108.0 129.0,107.1 128.5,106.1 128.0,105.4 127.5,105.0 127.0,104.6 126.5,104.3 126.0,103.9 125.5,103.5 125.0,103.1 124.5,102.6 124.0,102.1 123.5,101.6 123.0,101.1 122.5,100.6 122.0,100.1 121.5,99.6 121.0,99.1 120.5,98.6 120.0,98.1 119.5,97.6 119.0,97.1 118.5,96.7 118.0,96.4 117.5,96.1 117.0,95.7 116.5,95.4 116.0,95.2 115.5,95.8 115.0,96.4 114.5,97.0 114.0,96.5 113.5,96.0 113.0,95.5 112.5,96.0 112.0,96.6 111.5,97.3 111.0,97.8 110.5,98.0 110.0,98.1 109.5,98.3 109.0,98.5 108.5,98.5 108.0,98.3 107.5,98.1 107.0,98.0 106.5,97.8 106.0,98.2 105.5,98.7 105.0,99.2 104.5,100.0 104.0,100.8 103.5,101.6 103.0,102.5 102.5,103.3 102.0,103.8 101.5,104.4 101.0,105.0 100.5,105.6 100.0,106.1 99.5,106.7 99.0,106.6 98.5,106.4 98.0,106.3 97.5,106.1 97.0,105.9 96.5,105.7 96.0,105.5 95.5,105.3 95.0,105.2 94.5,105.3 94.0,105.7 93.5,106.1 93.0,106.4 92.5,106.8 92.0,106.9 91.5,106.3 91.0,105.7 90.5,105.1 90.0,104.4 89.5,103.8 89.0,104.5 88.5,105.2 88.0,105.8 87.5,106.5 87.0,107.2 86.5,107.9 86.0,108.6 85.5,109.3 85.0,110.0 84.5,111.0 84.0,112.0 83.5,113.9 83.0,118.0 82.5,125.3 82.0,130.7 81.5,131.8" fill="#ff2000"/>
<polygon points="81.5,313.7 82.0,314.6 82.5,319.8 83.0,326.8 83.5,330.7 84.0,332.4 84.5,333.2 85.0,334.1 85.5,334.8 86.0,335.5 86.5,336.2 87.0,336.9 87.5,336.8 88.0,336.8 88.5,336.7 89.0,336.7 89.5,336.8 90.0,335.5 90.5,334.3 91.0,333.1 91.5,331.8 92.0,331.2 92.5,331.8 93.0,332.5 93.5,333.3 94.0,334.1 94.5,334.3 95.0,334.2 95.5,333.9 96.0,333.5 96.5,333.2 97.0,332.8 97.5,332.1 98.0,331.4 98.5,330.6 99.0,329.8 99.5,329.1 100.0,329.1 100.5,329.1 101.0,329.0 101.5,329.8 102.0,330.7 102.5,331.5 103.0,332.5 103.5,333.4 104.0,334.2 104.5,335.0 105.0,335.7 105.5,336.1 106.0,336.2 106.5,336.1 107.0,335.5 107.5,334.8 108.0,334.2 108.5,333.2 109.0,332.4 109.5,331.9 110.0,331.3 110.5,331.0 111.0,331.2 111.5,331.9 112.0,332.6 112.5,333.3 113.0,333.9 113.5,333.5 114.0,333.2 114.5,332.8 115.0,333.4 115.5,334.4 116.0,335.4 116.5,335.7 117.0,335.8 117.5,335.9 118.0,335.9 118.5,335.9 119.0,335.8 119.5,335.5 120.0,335.3 120.5,335.0 121.0,334.8 121.5,334.8 122.0,334.9 122.5,335.1 123.0,335.3 123.5,335.4 124.0,334.9 124.5,334.2 125.0,333.6 125.5,333.1 126.0,332.6 126.5,332.0 127.0,331.5 127.5,331.1 128.0,331.1 128.5,330.8 129.0,330.3 129.5,329.7 130.0,329.1 130.5,330.9 131.0,333.2 131.5,335.4 132.0,337.6 132.5,339.0 133.0,340.1 133.5,341.3 134.0,342.0 134.5,342.4 135.0,342.9 135.5,344.0 136.0,345.6 136.5,346.2 137.0,346.9 137.5,347.5 138.0,347.7 138.5,347.9 139.0,348.1 139.5,346.8 140.0,345.3 140.5,343.7 141.0,343.6 141.5,344.2 142.0,344.8 142.5,345.3 143.0,345.7 143.5,346.1 144.0,346.5 144.5,346.9 145.0,346.9 145.5,346.7 146.0,346.1 146.5,345.5 147.0,344.9 147.5,344.3 148.0,344.5 148.5,345.2 149.0,345.6 149.5,346.1 150.0,346.5 150.5,345.6 151.0,345.2 151.5,345.1 152.0,339.7 152.5,346.9 153.0,347.8 153.5,347.9 154.0,347.9 154.5,347.9 155.0,348.4 155.5,349.1 156.0,350.4 156.5,350.3 157.0,349.3 157.5,348.3 158.0,348.1 158.5,348.9 159.0,349.3 159.5,349.7 160.0,350.0 160.5,350.4 161.0,350.7 161.5,350.9 162.0,351.3 162.5,351.6 163.0,352.0 163.5,352.3 164.0,352.7 164.5,353.0 165.0,352.7 165.5,351.6 166.0,349.9 166.5,346.9 167.0,344.0 167.5,342.6 168.0,341.5 168.5,340.4 169.0,339.0 169.5,337.5 170.0,335.9 170.5,334.3 171.0,332.6 171.5,331.3 172.0,332.6 172.5,333.9 173.0,335.0 173.5,336.8 174.0,337.3 174.5,336.4 175.0,335.9 175.5,337.4 176.0,339.3 176.5,341.3 177.0,343.2 177.5,344.8 178.0,346.3 178.5,347.7 179.0,349.2 179.5,350.7 180.0,353.7 180.5,353.7 181.0,353.7 181.5,353.7 182.0,353.3 182.5,351.5 183.0,349.8 183.5,348.5 184.0,347.4 184.5,346.4 185.0,345.0 185.5,343.3 186.0,341.4 186.5,342.1 187.0,342.8 187.5,342.3 188.0,341.8 188.5,342.3 189.0,343.1 189.5,343.9 190.0,344.8 190.5,345.6 191.0,346.3 191.5,347.0 192.0,347.3 192.5,347.4 193.0,347.6 193.5,347.8 194.0,348.0 194.5,348.7 195.0,349.4 195.5,350.1 196.0,350.2 196.5,350.3 197.0,350.3 197.5,350.2 198.0,350.1 198.5,350.2 199.0,350.2 199.5,350.3 200.0,350.3 200.5,350.3 201.0,350.2 201.5,349.8 202.0,349.4 202.5,349.0 203.0,348.6 203.5,348.6 204.0,349.6 204.5,350.5 205.0,351.2 205.5,351.2 206.0,351.3 206.5,351.3 207.0,351.3 207.5,351.0 208.0,350.4 208.5,349.8 209.0,349.1 209.5,348.5 210.0,348.4 210.5,348.4 211.0,348.3 211.5,348.6 212.0,348.7 212.5,348.2 213.0,347.7 213.5,347.2 214.0,346.4 214.5,346.1 215.0,346.1 215.5,346.1 216.0,346.2 216.5,346.2 217.0,345.8 217.5,345.3 218.0,344.5 218.5,343.7 219.0,343.0 219.5,342.2 220.0,341.6 220.5,341.1 221.0,340.6 221.5,340.3 222.0,340.3 222.5,339.5 223.0,338.8 223.5,338.0 224.0,336.9 224.5,339.1 225.0,341.4 225.5,343.3 226.0,343.4 226.5,343.8 227.0,344.2 227.5,344.8 228.0,346.6 228.5,347.9 229.0,348.8 229.5,348.7 230.0,348.6 230.5,348.4 231.0,348.3 231.5,349.3 232.0,350.2 232.5,351.0 233.0,351.9 233.5,352.6 234.0,353.4 234.5,354.1 235.0,354.7 235.5,355.2 236.0,355.6 236.5,355.9 237.0,356.3 237.5,356.7 238.0,357.2 238.5,357.6 239.0,358.0 239.5,358.4 240.0,358.7 240.5,359.1 241.0,358.3 241.5,356.8 242.0,355.1 242.5,356.7 243.0,360.6 243.5,360.3 244.0,360.0 244.5,359.7 245.0,359.4 245.5,359.6 246.0,360.5 246.5,361.2 247.0,361.7 247.5,361.4 248.0,360.6 248.5,359.8 249.0,359.0 249.5,358.1 250.0,357.1 250.5,356.1 251.0,355.1 251.5,354.2 252.0,354.2 252.5,354.4 253.0,354.5 253.5,354.7 254.0,354.7 254.5,354.3 255.0,353.8 255.5,353.5 256.0,353.4 256.5,354.1 257.0,355.4 257.5,356.8 258.0,357.3 258.5,357.0 259.0,356.5 259.5,356.0 260.0,355.6 260.5,355.2 261.0,355.0 261.5,354.7 262.0,354.3 262.5,353.9 263.0,353.4 263.5,353.1 264.0,353.0 264.5,352.8 265.0,352.4 265.5,351.8 266.0,351.2 266.5,350.6 267.0,349.9 267.5,349.3 268.0,348.7 268.5,348.2 269.0,347.6 269.5,347.2 270.0,347.4 270.5,347.5 271.0,347.6 271.5,347.7 272.0,347.6 272.5,347.3 273.0,347.0 273.5,346.7 274.0,346.4 274.5,346.1 275.0,345.9 275.5,345.7 276.0,345.5 276.5,345.3 277.0,345.1 277.5,345.1 278.0,345.1 278.5,345.1 279.0,345.1 279.5,345.0 280.0,345.5 280.5,344.8 281.0,344.1 281.5,342.2 282.0,339.3 282.5,338.0 283.0,340.2 283.5,342.4 284.0,344.1 284.5,344.3 285.0,345.0 285.5,345.7 286.0,345.7 286.5,345.6 287.0,345.5 287.5,344.6 288.0,343.7 288.5,342.7 289.0,340.9 289.5,338.1 290.0,337.9 290.5,338.8 291.0,339.2 291.5,338.2 292.0,337.4 292.5,335.3 293.0,332.7 293.5,332.2 294.0,333.4 294.5,334.5 295.0,335.2 295.5,335.3 296.0,335.3 296.5,335.6 297.0,336.2 297.5,337.5 298.0,338.7 298.5,339.5 299.0,340.2 299.5,341.0 300.0,341.8 300.5,342.7 301.0,343.6 301.5,342.4 302.0,340.8 302.5,339.0 303.0,337.2 303.5,335.8 304.0,332.9 304.5,327.6 305.0,321.2 305.5,317.7 306.0,317.5 306.5,312.5 307.0,308.7 307.5,305.6 308.0,300.5 308.5,293.9 309.0,288.6 309.5,283.5 310.0,278.5 310.5,278.1 311.0,286.3 311.5,294.5 312.0,302.0 312.5,309.2 313.0,314.6 313.5,319.9 314.0,325.4 314.5,330.3 315.0,332.9 315.5,326.0 316.0,329.4 316.5,334.7 317.0,335.6 317.5,335.9 318.0,335.8 318.5,335.6 319.0,335.3 319.5,334.6 320.0,335.3 320.5,336.8 321.0,338.5 321.5,339.4 322.0,339.4 322.5,339.5 323.0,339.3 323.5,338.8 324.0,338.2 324.5,337.6 325.0,337.0 325.5,336.8 326.0,336.9 326.5,337.9 327.0,338.0 327.5,337.8 328.0,337.6 328.5,338.7 329.0,340.8 329.5,343.0 330.0,344.4 330.5,345.1 331.0,344.4 331.5,344.0 332.0,344.2 332.5,344.3 333.0,344.8 333.5,346.1 334.0,347.1 334.5,347.1 335.0,346.8 335.5,346.6 336.0,346.3 336.5,347.4 337.0,348.6 337.5,349.7 338.0,349.5 338.5,349.2 339.0,349.0 339.5,349.6 340.0,350.0 340.5,349.3 341.0,348.6 341.5,347.9 342.0,346.8 342.5,346.1 343.0,345.9 343.5,348.2 344.0,350.4 344.5,352.5 345.0,353.0 345.5,353.3 346.0,353.7 346.5,352.1 347.0,350.4 347.5,349.8 348.0,349.2 348.5,348.6 349.0,347.9 349.5,348.2 350.0,349.2 350.5,350.1 351.0,351.1 351.5,352.1 352.0,352.6 352.5,353.2 353.0,353.8 353.5,354.4 354.0,355.0 354.5,355.7 355.0,356.2 355.5,356.7 356.0,356.8 356.5,357.0 357.0,357.1 357.5,357.3 358.0,357.4 358.5,357.6 359.0,357.8 359.5,358.1 360.0,358.4 360.5,358.7 361.0,359.1 361.5,359.4 362.0,359.7 362.5,360.0 363.0,360.1 363.5,360.1 364.0,360.1 364.5,360.1 365.0,360.1 365.5,360.1 366.0,360.3 366.5,360.6 367.0,360.9 367.5,361.1 368.0,361.4 368.5,362.0 369.0,362.6 369.5,363.2 370.0,363.8 370.5,363.7 371.0,363.3 371.5,362.8 372.0,362.4 372.5,362.0 373.0,362.3 373.5,362.8 374.0,363.2 374.5,363.6 375.0,364.0 375.5,364.3 376.0,364.6 376.5,364.9 377.0,364.9 377.5,364.6 378.0,364.2 378.5,363.7 379.0,363.3 379.5,362.8 380.0,363.6 380.5,363.2 381.0,362.8 381.5,362.4 382.0,362.0 382.5,361.6 383.0,361.1 383.5,360.6 384.0,360.1 384.5,359.6 385.0,358.9 385.5,358.1 386.0,357.4 386.5,356.6 387.0,355.9 387.5,355.9 388.0,356.0 388.5,356.1 389.0,356.2 389.5,356.3 390.0,356.5 390.5,356.9 391.0,357.3 391.5,357.8 392.0,358.2 392.5,358.6 393.0,358.9 393.5,359.2 394.0,359.5 394.5,359.8 395.0,360.1 395.5,360.4 396.0,359.9 396.5,359.2 397.0,358.5 397.5,357.8 398.0,357.1 398.5,356.6 399.0,356.0 399.5,355.5 400.0,355.1 400.5,354.8 401.0,354.4 401.5,354.0 402.0,353.6 402.5,353.3 403.0,352.9 403.5,352.1 404.0,351.2 404.5,350.3 405.0,349.4 405.5,348.5 406.0,347.4 406.5,346.2 407.0,345.0 407.5,344.8 408.0,344.5 408.5,344.4 409.0,344.2 409.5,343.7 410.0,342.4 410.5,341.2 411.0,340.0 411.5,338.7 412.0,337.5 412.5,336.9 413.0,336.2 413.5,335.6 414.0,335.0 414.5,335.6 415.0,336.2 415.5,336.9 416.0,337.5 416.5,338.2 417.0,338.1 417.5,337.9 418.0,337.2 418.5,334.7 419.0,332.2 419.5,329.8 420.0,328.4 420.5,327.0 421.0,325.7 421.5,328.5 422.0,331.6 422.5,334.8 423.0,335.1 423.5,335.1 424.0,335.1 424.5,333.0 425.0,330.2 425.5,327.6 426.0,325.5 426.5,323.7 427.0,322.7 427.5,325.3 428.0,327.8 428.5,330.4 429.0,332.8 429.5,335.2 430.0,337.6 430.5,340.0 431.0,339.0 431.5,336.7 432.0,334.6 432.5,333.0 433.0,331.4 433.5,330.3 434.0,332.7 434.5,335.2 435.0,337.6 435.5,337.9 436.0,337.8 436.5,337.6 437.0,336.4 437.5,335.2 438.0,334.0 438.5,334.2 439.0,333.5 439.5,328.4 440.0,323.3 440.5,319.3 441.0,322.4 441.5,325.5 442.0,329.1 442.5,328.9 443.0,328.7 443.5,328.4 444.0,328.2 444.5,327.4 445.0,325.6 445.5,323.8 446.0,322.0 446.5,320.3 447.0,318.7 447.5,320.1 448.0,322.4 448.5,324.6 449.0,326.8 449.5,328.1 450.0,329.2 450.5,330.3 451.0,331.4 451.5,331.8 452.0,331.6 452.5,331.3 453.0,331.0 453.5,329.7 454.0,328.0 454.5,326.1 455.0,324.9 455.5,324.1 456.0,323.3 456.5,323.6 457.0,323.9 457.5,323.6 458.0,322.1 458.5,320.6 459.0,318.0 459.5,315.0 460.0,313.1 460.5,314.5 461.0,317.1 461.5,319.8 462.0,322.8 462.5,325.8 463.0,328.4 463.5,330.2 464.0,331.9 464.5,333.7 465.0,334.9 465.5,333.9 466.0,332.9 466.5,333.6 467.0,332.3 467.5,330.6 468.0,330.4 468.5,330.7 469.0,330.9 469.5,327.1 470.0,319.8 470.5,323.2 471.0,326.5 471.5,330.2 472.0,333.8 472.5,331.9 473.0,321.4 473.5,314.5 474.0,309.8 474.5,319.0 475.0,328.4 475.5,331.0 476.0,333.3 476.5,336.3 477.0,340.0 477.5,343.4 478.0,345.5 478.5,346.5 479.0,347.4 479.5,347.2 480.0,344.6 480.5,341.2 481.0,339.3 481.5,341.3 482.0,343.4 482.5,343.0 483.0,341.9 483.5,340.1 484.0,336.8 484.5,332.7 485.0,328.7 485.5,332.9 486.0,336.9 486.5,335.2 487.0,334.2 487.5,333.7 488.0,333.3 488.5,334.3 489.0,335.9 489.5,337.3 490.0,338.4 490.5,339.0 491.0,339.4 491.5,339.7 492.0,339.9 492.5,340.2 493.0,339.9 493.5,338.3 494.0,336.7 494.5,333.4 495.0,325.4 495.5,321.9 496.0,319.4 496.5,315.7 497.0,310.3 497.5,304.1 498.0,296.8 498.5,294.9 499.0,292.9 499.5,291.0 500.0,290.0 500.5,290.6 501.0,292.4 501.5,297.3 502.0,301.1 502.5,293.2 503.0,286.3 503.5,279.9 504.0,276.2 504.5,279.3 505.0,287.9 505.5,296.3 506.0,304.0 506.5,308.7 507.0,313.4 507.5,316.9 508.0,321.1 508.5,324.0 509.0,326.6 509.5,329.1 510.0,328.2 510.5,327.0 511.0,325.3 511.5,323.3 512.0,321.3 512.5,319.3 513.0,317.4 513.5,316.2 514.0,318.8 514.5,321.4 515.0,323.7 515.5,326.1 516.0,328.2 516.5,326.0 517.0,323.7 517.5,321.6 518.0,320.5 518.5,319.4 519.0,318.5 519.5,318.4 520.0,317.6 520.5,316.5 521.0,316.0 521.5,316.4 522.0,316.7 522.5,318.7 523.0,318.1 523.5,313.1 524.0,310.6 524.5,309.4 525.0,307.2 525.5,302.8 526.0,300.0 526.5,301.5 527.0,306.6 527.5,316.1 528.0,313.6 528.5,302.3 529.0,291.5 529.5,295.1 530.0,305.6 530.5,310.2 531.0,301.9 531.5,291.6 532.0,302.2 532.5,310.2 533.0,313.0 533.5,316.4 534.0,321.3 534.5,325.2 535.0,326.2 535.5,323.5 536.0,317.9 536.5,312.1 537.0,307.9 537.5,316.1 538.0,313.0 538.5,304.3 539.0,305.4 539.5,311.8 540.0,316.0 540.5,319.9 541.0,322.6 541.5,325.0 542.0,327.4 542.5,329.9 543.0,332.3 543.5,334.6 544.0,335.3 544.5,335.6 545.0,336.0 545.5,337.0 546.0,338.0 546.5,339.6 547.0,341.7 547.5,343.8 548.0,342.9 548.5,340.1 549.0,334.4 549.5,335.7 550.0,341.7 550.5,343.8 551.0,345.7 551.5,347.7 552.0,348.5 552.5,349.3 553.0,350.0 553.5,350.7 554.0,351.5 554.5,352.2 555.0,352.9 555.5,353.6 556.0,353.8 556.5,354.1 557.0,354.4 557.5,354.6 558.0,353.9 558.5,351.9 559.0,350.0 559.5,350.5 560.0,351.4 560.5,352.3 561.0,352.8 561.5,352.3 562.0,351.7 562.5,351.3 563.0,351.5 563.5,351.7 564.0,351.9 564.5,352.1 565.0,352.2 565.5,352.2 566.0,351.5 566.5,350.7 567.0,350.0 567.5,349.6 568.0,349.7 568.5,350.6 569.0,351.5 569.5,352.3 570.0,352.2 570.5,352.2 571.0,352.1 571.5,352.1 572.0,352.0 572.5,352.3 573.0,353.1 573.5,353.9 574.0,354.8 574.5,355.0 575.0,353.4 575.5,351.6 576.0,350.2 576.5,350.9 577.0,351.5 577.5,351.7 578.0,350.7 578.5,349.8 579.0,349.6 579.5,349.1 580.0,347.7 580.5,346.4 581.0,345.1 581.5,345.4 582.0,346.6 582.5,347.8 583.0,349.0 583.5,349.9 584.0,350.6 584.5,351.3 585.0,352.0 585.5,352.7 586.0,353.0 586.5,353.3 587.0,353.5 587.5,353.5 588.0,352.0 588.5,350.6 589.0,350.7 589.5,351.7 590.0,352.6 590.5,352.9 591.0,352.9 591.5,352.8 592.0,352.8 592.5,352.8 593.0,351.2 593.5,349.4 594.0,347.6 594.5,346.2 595.0,345.3 595.5,344.4 596.0,344.1 596.5,344.2 597.0,346.1 597.5,348.0 598.0,349.8 598.5,350.1 599.0,350.4 599.5,350.7 600.0,351.0 600.5,351.0 601.0,350.4 601.5,349.7 602.0,349.1 602.5,348.4 603.0,348.4 603.5,348.5 604.0,349.0 604.5,349.4 605.0,349.8 605.5,350.2 606.0,350.6 606.5,351.0 607.0,351.2 607.5,351.0 608.0,350.2 608.5,349.3 609.0,348.4 609.5,346.9 610.0,346.0 610.5,345.2 611.0,344.8 611.5,344.3 612.0,343.8 612.5,344.0 613.0,344.1 613.5,344.1 614.0,344.0 614.5,343.8 615.0,343.5 615.5,343.2 616.0,343.0 616.5,342.7 617.0,342.4 617.5,342.2 618.0,342.1 618.5,342.1 619.0,342.0 619.5,342.0 620.0,341.9 620.5,341.7 621.0,341.6 621.5,341.5 622.0,341.3 622.5,341.0 623.0,340.6 623.5,340.3 624.0,340.7 624.5,341.4 625.0,342.1 625.0,374.6 624.5,374.9 624.0,375.2 623.5,375.3 623.0,375.1 622.5,374.9 622.0,374.7 621.5,374.6 621.0,374.5 620.5,374.4 620.0,374.3 619.5,374.2 619.0,374.1 618.5,374.1 618.0,374.0 617.5,373.9 617.0,373.7 616.5,373.5 616.0,373.3 615.5,373.1 615.0,372.9 614.5,372.7 614.0,372.4 613.5,372.0 613.0,371.7 612.5,371.4 612.0,371.1 611.5,371.2 611.0,371.4 610.5,371.5 610.0,371.7 609.5,371.9 609.0,371.8 608.5,371.5 608.0,371.2 607.5,370.8 607.0,370.8 606.5,370.9 606.0,370.9 605.5,370.9 605.0,370.9 604.5,370.9 604.0,371.0 603.5,371.0 603.0,371.1 602.5,371.1 602.0,370.9 601.5,370.6 601.0,370.4 600.5,370.2 600.0,370.1 599.5,370.0 599.0,370.0 598.5,370.0 598.0,370.0 597.5,370.4 597.0,370.9 596.5,371.3 596.0,370.9 595.5,370.5 595.0,370.3 594.5,370.1 594.0,369.7 593.5,369.6 593.0,369.4 592.5,369.3 592.0,369.2 591.5,369.1 591.0,369.1 590.5,369.0 590.0,369.1 589.5,369.5 589.0,369.9 588.5,369.9 588.0,369.3 587.5,368.6 587.0,368.7 586.5,368.9 586.0,369.1 585.5,369.3 585.0,369.4 584.5,369.5 584.0,369.7 583.5,369.8 583.0,370.0 582.5,370.2 582.0,370.5 581.5,370.8 581.0,370.6 580.5,369.8 580.0,369.0 579.5,368.2 579.0,367.9 578.5,367.8 578.0,368.0 577.5,368.3 577.0,369.1 576.5,369.8 576.0,370.5 575.5,370.1 575.0,369.5 574.5,368.9 574.0,368.7 573.5,368.9 573.0,369.0 572.5,369.2 572.0,369.3 571.5,369.5 571.0,369.7 570.5,369.9 570.0,370.1 569.5,370.3 569.0,370.4 568.5,370.5 568.0,370.7 567.5,370.4 567.0,370.0 566.5,369.7 566.0,369.5 565.5,369.3 565.0,369.5 564.5,369.6 564.0,369.6 563.5,369.6 563.0,369.6 562.5,369.6 562.0,369.9 561.5,370.3 561.0,370.6 560.5,370.4 560.0,370.1 559.5,369.7 559.0,369.1 558.5,369.6 558.0,370.1 557.5,370.1 557.0,369.6 556.5,369.1 556.0,368.7 555.5,368.2 555.0,368.0 554.5,367.9 554.0,367.8 553.5,367.6 553.0,367.5 552.5,367.7 552.0,367.8 551.5,368.0 551.0,368.7 550.5,369.5 550.0,370.2 549.5,373.0 549.0,373.4 548.5,370.3 548.0,367.8 547.5,366.2 547.0,366.1 546.5,366.1 546.0,366.2 545.5,366.0 545.0,365.8 544.5,366.0 544.0,366.1 543.5,366.5 543.0,367.6 542.5,368.9 542.0,370.2 541.5,371.5 541.0,372.7 540.5,374.0 540.0,375.6 539.5,377.3 539.0,380.0 538.5,380.2 538.0,375.9 537.5,374.6 537.0,378.9 536.5,377.0 536.0,374.3 535.5,371.4 535.0,369.9 534.5,370.2 534.0,372.0 533.5,374.6 533.0,376.9 532.5,379.0 532.0,383.7 531.5,389.6 531.0,384.3 530.5,379.5 530.0,381.2 529.5,386.4 529.0,388.6 528.5,383.5 528.0,377.6 527.5,375.2 527.0,378.8 526.5,381.1 526.0,383.8 525.5,384.3 525.0,383.5 524.5,382.2 524.0,381.3 523.5,379.8 523.0,377.0 522.5,376.3 522.0,377.0 521.5,378.3 521.0,379.6 520.5,380.5 520.0,381.0 519.5,381.4 519.0,381.5 518.5,381.1 518.0,380.7 517.5,380.2 517.0,379.6 516.5,379.0 516.0,378.6 515.5,380.3 515.0,381.8 514.5,383.4 514.0,385.1 513.5,386.8 513.0,385.6 512.5,383.9 512.0,382.1 511.5,380.2 511.0,378.2 510.5,376.3 510.0,374.8 509.5,373.3 509.0,373.8 508.5,374.2 508.0,374.8 507.5,376.5 507.0,378.4 506.5,380.9 506.0,383.5 505.5,387.4 505.0,391.3 504.5,395.3 504.0,396.5 503.5,394.7 503.0,392.6 502.5,390.2 502.0,387.4 501.5,389.2 501.0,390.4 500.5,390.1 500.0,389.3 499.5,389.4 499.0,389.4 498.5,389.3 498.0,389.3 497.5,386.2 497.0,383.4 496.5,381.1 496.0,378.9 495.5,377.1 495.0,374.7 494.5,370.8 494.0,369.8 493.5,369.6 493.0,369.4 492.5,369.8 492.0,370.2 491.5,370.6 491.0,370.9 490.5,371.4 490.0,371.8 489.5,372.0 489.0,372.4 488.5,372.8 488.0,373.0 487.5,372.7 487.0,372.4 486.5,371.9 486.0,371.0 485.5,373.0 485.0,376.0 484.5,375.0 484.0,374.0 483.5,373.3 483.0,373.2 482.5,372.8 482.0,372.7 481.5,373.9 481.0,375.0 480.5,374.2 480.0,372.6 479.5,370.7 479.0,369.7 478.5,369.3 478.0,368.9 477.5,369.1 477.0,369.8 476.5,370.4 476.0,370.6 475.5,370.4 475.0,370.1 474.5,373.1 474.0,376.0 473.5,373.8 473.0,371.9 472.5,368.2 472.0,368.8 471.5,371.6 471.0,374.1 470.5,376.5 470.0,378.8 469.5,375.9 469.0,373.6 468.5,373.2 468.0,372.9 467.5,372.0 467.0,370.4 466.5,368.9 466.0,368.4 465.5,368.8 465.0,369.3 464.5,370.2 464.0,371.0 463.5,371.7 463.0,372.4 462.5,373.5 462.0,374.5 461.5,375.5 461.0,376.3 460.5,377.2 460.0,378.6 459.5,378.4 459.0,377.5 458.5,376.8 458.0,375.8 457.5,374.9 457.0,374.5 456.5,375.3 456.0,376.1 455.5,376.3 455.0,376.6 454.5,377.0 454.0,377.8 453.5,378.6 453.0,379.5 452.5,380.0 452.0,380.4 451.5,380.8 451.0,380.9 450.5,381.3 450.0,381.7 449.5,382.2 449.0,382.5 448.5,383.0 448.0,383.5 447.5,384.1 447.0,384.2 446.5,383.1 446.0,382.1 445.5,381.0 445.0,379.9 444.5,378.9 444.0,378.3 443.5,378.1 443.0,377.9 442.5,377.7 442.0,377.4 441.5,379.1 441.0,381.0 440.5,382.9 440.0,381.2 439.5,379.1 439.0,376.9 438.5,376.9 438.0,377.4 437.5,377.2 437.0,376.9 436.5,376.7 436.0,377.0 435.5,377.1 435.0,377.0 434.5,378.0 434.0,379.0 433.5,380.0 433.0,379.4 432.5,378.4 432.0,377.5 431.5,376.3 431.0,375.1 430.5,374.6 430.0,375.8 429.5,377.0 429.0,378.2 428.5,379.4 428.0,380.6 427.5,381.8 427.0,383.1 426.5,382.5 426.0,381.5 425.5,380.4 425.0,379.0 424.5,377.7 424.0,376.6 423.5,376.6 423.0,376.6 422.5,376.7 422.0,378.4 421.5,380.0 421.0,381.9 420.5,381.6 420.0,381.3 419.5,381.0 419.0,380.2 418.5,379.4 418.0,378.6 417.5,378.6 417.0,378.9 416.5,379.1 416.0,378.9 415.5,378.7 415.0,378.5 414.5,378.3 414.0,378.0 413.5,377.2 413.0,376.4 412.5,375.5 412.0,374.7 411.5,374.2 411.0,373.8 410.5,373.4 410.0,373.1 409.5,372.7 409.0,372.7 408.5,372.8 408.0,373.0 407.5,373.2 407.0,373.4 406.5,373.1 406.0,372.8 405.5,372.6 405.0,372.2 404.5,371.8 404.0,371.4 403.5,371.0 403.0,370.7 402.5,370.6 402.0,370.3 401.5,370.0 401.0,369.6 400.5,369.3 400.0,369.0 399.5,368.7 399.0,368.5 398.5,368.3 398.0,368.0 397.5,367.7 397.0,367.4 396.5,367.1 396.0,366.8 395.5,366.5 395.0,366.6 394.5,366.7 394.0,366.8 393.5,366.9 393.0,367.0 392.5,367.1 392.0,367.2 391.5,367.4 391.0,367.6 390.5,367.7 390.0,367.9 389.5,368.2 389.0,368.4 388.5,368.6 388.0,368.9 387.5,369.1 387.0,369.3 386.5,369.2 386.0,369.2 385.5,369.1 385.0,369.1 384.5,368.9 384.0,368.5 383.5,368.1 383.0,367.7 382.5,367.3 382.0,367.0 381.5,366.9 381.0,366.8 380.5,366.6 380.0,366.5 379.5,366.9 379.0,366.9 378.5,366.9 378.0,366.8 377.5,366.8 377.0,366.7 376.5,366.4 376.0,366.3 375.5,366.2 375.0,366.1 374.5,365.9 374.0,365.7 373.5,365.5 373.0,365.3 372.5,365.2 372.0,365.4 371.5,365.7 371.0,365.9 370.5,366.2 370.0,366.2 369.5,365.9 369.0,365.7 368.5,365.4 368.0,365.1 367.5,365.0 367.0,364.8 366.5,364.8 366.0,364.7 365.5,364.6 365.0,364.6 364.5,364.7 364.0,364.7 363.5,364.7 363.0,364.8 362.5,364.9 362.0,364.8 361.5,364.8 361.0,364.7 360.5,364.6 360.0,364.6 359.5,364.5 359.0,364.4 358.5,364.2 358.0,364.1 357.5,364.0 357.0,363.9 356.5,363.8 356.0,363.6 355.5,363.5 355.0,363.5 354.5,363.6 354.0,363.6 353.5,363.5 353.0,363.5 352.5,363.5 352.0,363.5 351.5,363.4 351.0,363.1 350.5,362.8 350.0,362.6 349.5,362.3 349.0,362.3 348.5,362.7 348.0,363.2 347.5,363.6 347.0,364.1 346.5,363.7 346.0,363.2 345.5,363.7 345.0,364.2 344.5,364.7 344.0,364.2 343.5,363.8 343.0,363.5 342.5,364.3 342.0,365.0 341.5,365.4 341.0,365.6 340.5,365.8 340.0,365.9 339.5,366.6 339.0,367.6 338.5,368.9 338.0,370.1 337.5,371.3 337.0,371.7 336.5,372.1 336.0,372.5 335.5,373.0 335.0,373.5 334.5,374.0 334.0,374.3 333.5,374.2 333.0,374.2 332.5,374.7 332.0,375.2 331.5,375.8 331.0,376.1 330.5,376.2 330.0,375.6 329.5,375.4 329.0,375.6 328.5,375.8 328.0,375.5 327.5,374.6 327.0,373.7 326.5,373.1 326.0,372.8 325.5,373.0 325.0,373.3 324.5,373.4 324.0,373.6 323.5,373.7 323.0,373.8 322.5,374.0 322.0,374.4 321.5,374.7 321.0,374.6 320.5,373.9 320.0,373.0 319.5,372.4 319.0,372.5 318.5,372.8 318.0,373.2 317.5,373.6 317.0,374.1 316.5,374.9 316.0,377.7 315.5,378.3 315.0,373.8 314.5,374.1 314.0,375.5 313.5,377.7 313.0,380.0 312.5,382.3 312.0,385.5 311.5,389.4 311.0,393.9 310.5,398.3 310.0,398.4 309.5,396.3 309.0,394.6 308.5,392.7 308.0,390.3 307.5,388.5 307.0,387.9 306.5,387.0 306.0,385.5 305.5,386.4 305.0,385.6 304.5,382.9 304.0,380.6 303.5,379.5 303.0,379.1 302.5,378.5 302.0,377.5 301.5,376.6 301.0,375.8 300.5,376.1 300.0,376.4 299.5,376.8 299.0,376.7 298.5,376.6 298.0,376.4 297.5,376.6 297.0,376.8 296.5,377.4 296.0,377.8 295.5,378.1 295.0,378.4 294.5,378.9 294.0,379.6 293.5,380.3 293.0,380.1 292.5,378.9 292.0,378.0 291.5,377.8 291.0,377.7 290.5,378.3 290.0,379.1 289.5,379.3 289.0,378.3 288.5,376.8 288.0,375.8 287.5,374.7 287.0,373.7 286.5,373.0 286.0,372.3 285.5,371.6 285.0,371.3 284.5,371.2 284.0,371.4 283.5,372.3 283.0,373.5 282.5,374.6 282.0,373.9 281.5,372.2 281.0,371.0 280.5,370.4 280.0,369.8 279.5,369.6 279.0,369.5 278.5,369.3 278.0,369.2 277.5,369.1 277.0,369.0 276.5,369.0 276.0,369.0 275.5,369.0 275.0,369.0 274.5,369.0 274.0,369.0 273.5,369.0 273.0,369.0 272.5,369.0 272.0,369.0 271.5,369.1 271.0,369.3 270.5,369.5 270.0,369.7 269.5,369.9 269.0,369.7 268.5,369.5 268.0,369.3 267.5,369.0 267.0,368.8 266.5,368.5 266.0,368.2 265.5,367.8 265.0,367.4 264.5,367.2 264.0,367.0 263.5,366.8 263.0,366.7 262.5,366.7 262.0,366.7 261.5,366.7 261.0,366.8 260.5,366.8 260.0,366.9 259.5,367.1 259.0,367.2 258.5,367.4 258.0,367.6 257.5,367.4 257.0,366.8 256.5,366.3 256.0,366.0 255.5,366.1 255.0,366.1 254.5,366.0 254.0,366.0 253.5,365.7 253.0,365.4 252.5,365.1 252.0,364.8 251.5,364.5 251.0,364.7 250.5,365.0 250.0,365.2 249.5,365.4 249.0,365.7 248.5,365.8 248.0,366.0 247.5,366.1 247.0,366.0 246.5,365.5 246.0,365.0 245.5,364.7 245.0,364.7 244.5,365.0 244.0,365.3 243.5,365.5 243.0,365.8 242.5,366.9 242.0,366.9 241.5,365.1 241.0,364.1 240.5,363.6 240.0,363.6 239.5,363.7 239.0,363.8 238.5,363.8 238.0,363.8 237.5,363.8 237.0,363.8 236.5,363.7 236.0,363.7 235.5,363.6 235.0,363.5 234.5,363.3 234.0,363.2 233.5,363.0 233.0,362.9 232.5,362.7 232.0,362.6 231.5,362.4 231.0,362.3 230.5,362.7 230.0,363.2 229.5,363.7 229.0,364.2 228.5,365.2 228.0,366.1 227.5,366.6 227.0,366.6 226.5,366.5 226.0,366.4 225.5,366.4 225.0,367.5 224.5,368.9 224.0,370.1 223.5,369.7 223.0,369.2 222.5,368.6 222.0,368.0 221.5,367.9 221.0,367.8 220.5,367.9 220.0,368.0 219.5,368.1 219.0,368.2 218.5,368.4 218.0,368.5 217.5,368.7 217.0,368.7 216.5,368.6 216.0,368.8 215.5,369.0 215.0,369.1 214.5,369.3 214.0,369.2 213.5,369.0 213.0,368.6 212.5,368.2 212.0,367.7 211.5,367.6 211.0,367.7 210.5,367.9 210.0,368.1 209.5,368.2 209.0,368.1 208.5,368.0 208.0,367.9 207.5,367.7 207.0,367.7 206.5,367.9 206.0,368.1 205.5,368.3 205.0,368.5 204.5,368.3 204.0,368.0 203.5,367.8 203.0,367.9 202.5,368.1 202.0,368.4 201.5,368.7 201.0,369.0 200.5,369.1 200.0,369.2 199.5,369.4 199.0,369.5 198.5,369.7 198.0,369.8 197.5,370.1 197.0,370.3 196.5,370.7 196.0,371.1 195.5,371.4 195.0,371.4 194.5,371.5 194.0,371.5 193.5,371.3 193.0,371.1 192.5,370.9 192.0,370.8 191.5,370.7 191.0,370.9 190.5,371.0 190.0,371.2 189.5,371.2 189.0,371.1 188.5,371.0 188.0,371.0 187.5,371.5 187.0,372.0 186.5,373.1 186.0,374.2 185.5,374.0 185.0,373.1 184.5,372.2 184.0,371.5 183.5,370.8 183.0,370.1 182.5,369.4 182.0,368.7 181.5,368.7 181.0,368.9 180.5,369.1 180.0,369.3 179.5,370.5 179.0,370.7 178.5,370.9 178.0,371.1 177.5,371.3 177.0,371.5 176.5,371.7 176.0,371.9 175.5,372.1 175.0,372.5 174.5,372.7 174.0,372.6 173.5,373.3 173.0,374.7 172.5,375.7 172.0,376.6 171.5,377.6 171.0,377.2 170.5,376.6 170.0,376.1 169.5,375.7 169.0,375.2 168.5,374.7 168.0,374.0 167.5,373.3 167.0,372.4 166.5,370.8 166.0,369.1 165.5,368.1 165.0,367.4 164.5,367.1 164.0,367.2 163.5,367.3 163.0,367.3 162.5,367.4 162.0,367.5 161.5,367.6 161.0,367.8 160.5,368.0 160.0,368.2 159.5,368.4 159.0,368.7 158.5,368.9 158.0,368.9 157.5,368.5 157.0,367.7 156.5,366.9 156.0,366.5 155.5,366.9 155.0,367.5 154.5,368.1 154.0,368.4 153.5,368.8 153.0,369.1 152.5,369.0 152.0,372.1 151.5,368.8 151.0,368.3 150.5,367.9 150.0,367.7 149.5,368.2 149.0,368.7 148.5,369.2 148.0,369.6 147.5,369.9 147.0,369.7 146.5,369.5 146.0,369.3 145.5,369.1 145.0,369.0 144.5,369.1 144.0,369.0 143.5,368.9 143.0,368.7 142.5,368.6 142.0,368.8 141.5,369.3 141.0,369.8 140.5,370.1 140.0,369.5 139.5,369.0 139.0,368.6 138.5,368.8 138.0,369.1 137.5,369.4 137.0,369.9 136.5,370.4 136.0,370.9 135.5,370.9 135.0,370.8 134.5,370.3 134.0,369.8 133.5,369.5 133.0,369.7 132.5,369.9 132.0,370.1 131.5,370.9 131.0,371.6 130.5,372.3 130.0,372.8 129.5,372.1 129.0,371.4 128.5,370.8 128.0,370.2 127.5,369.8 127.0,369.7 126.5,369.6 126.0,369.4 125.5,369.3 125.0,369.2 124.5,369.0 124.0,368.8 123.5,368.6 123.0,368.0 122.5,367.5 122.0,366.9 121.5,366.3 121.0,365.8 120.5,365.4 120.0,365.1 119.5,364.7 119.0,364.3 118.5,364.0 118.0,363.7 117.5,363.3 117.0,363.0 116.5,362.6 116.0,362.3 115.5,362.4 115.0,362.4 114.5,362.7 114.0,362.4 113.5,362.1 113.0,361.8 112.5,362.0 112.0,362.3 111.5,362.5 111.0,362.7 110.5,362.8 110.0,363.1 109.5,363.5 109.0,364.0 108.5,364.4 108.0,364.7 107.5,364.8 107.0,365.0 106.5,365.2 106.0,365.6 105.5,366.1 105.0,366.3 104.5,366.8 104.0,367.2 103.5,367.6 103.0,368.0 102.5,368.3 102.0,368.5 101.5,368.6 101.0,368.8 100.5,369.4 100.0,370.0 99.5,370.5 99.0,370.8 98.5,371.0 98.0,371.2 97.5,371.4 97.0,371.6 96.5,371.6 96.0,371.6 95.5,371.6 95.0,371.6 94.5,371.7 94.0,372.0 93.5,372.0 93.0,372.0 92.5,372.0 92.0,371.8 91.5,371.5 91.0,371.5 90.5,371.5 90.0,371.5 89.5,371.5 89.0,372.1 88.5,372.8 88.0,373.5 87.5,374.2 87.0,374.9 86.5,375.3 86.0,375.6 85.5,376.0 85.0,376.3 84.5,376.8 84.0,377.4 83.5,378.5 83.0,380.6 82.5,384.3 82.0,387.1 81.5,387.8" fill="#ff2000"/>
<polygon points="625.0,79.1 625.5,79.1 626.0,79.1 626.5,79.1 627.0,79.1 627.5,79.1 628.0,79.1 628.5,79.1 629.0,79.2 629.5,79.3 630.0,79.4 630.5,79.4 631.0,79.5 631.0,99.4 630.5,99.7 630.0,100.8 629.5,102.0 629.0,102.9 628.5,103.1 628.0,103.3 627.5,103.5 627.0,103.6 626.5,103.7 626.0,103.8 625.5,103.9 625.0,104.3" fill="#ff9900"/>
<polygon points="625.0,342.1 625.5,342.5 626.0,342.6 626.5,342.7 627.0,342.8 627.5,342.9 628.0,343.1 628.5,343.3 629.0,343.6 629.5,344.6 630.0,345.8 630.5,347.0 631.0,347.4 631.0,372.4 630.5,372.5 630.0,373.0 629.5,373.6 629.0,374.0 628.5,374.1 628.0,374.2 627.5,374.2 627.0,374.3 626.5,374.3 626.0,374.4 625.5,374.4 625.0,374.6" fill="#ff9900"/>
<polygon points="631.0,79.5 631.5,79.6 632.0,79.4 632.5,79.3 633.0,79.1 633.5,78.6 634.0,78.1 634.5,77.6 635.0,77.4 635.5,77.3 636.0,77.1 636.5,77.0 636.5,99.9 636.0,100.4 635.5,100.3 635.0,100.2 634.5,100.1 634.0,100.0 633.5,99.9 633.0,99.8 632.5,99.7 632.0,99.6 631.5,99.5 631.0,99.4" fill="#ffee00"/>
<polygon points="631.0,347.4 631.5,347.3 632.0,347.1 632.5,346.8 633.0,346.6 633.5,346.0 634.0,345.4 634.5,344.8 635.0,344.5 635.5,344.3 636.0,344.0 636.5,344.3 636.5,371.4 636.0,371.7 635.5,371.7 635.0,371.7 634.5,371.8 634.0,372.0 633.5,372.2 633.0,372.4 632.5,372.4 632.0,372.4 631.5,372.5 631.0,372.4" fill="#ffee00"/>
<polygon points="636.5,77.0 637.0,76.8 637.5,77.8 637.5,98.7 637.0,99.3 636.5,99.9" fill="#1f6f6f"/>
<polygon points="636.5,344.3 637.0,344.8 637.5,346.4 637.5,371.2 637.0,371.0 636.5,371.4" fill="#1f6f6f"/>
<polyline points="81.5,78.0 82.0,77.8 82.5,77.6 83.0,77.4 83.5,77.2 84.0,77.0 84.5,76.8 85.0,76.8 85.5,76.8 86.0,76.8 86.5,76.8 87.0,76.8 87.5,76.0 88.0,75.3 88.5,74.5 89.0,73.9 89.5,73.3 90.0,72.6 90.5,72.0 91.0,71.4 91.5,70.8 92.0,70.8 92.5,71.2 93.0,71.6 93.5,72.0 94.0,72.4 94.5,72.2 95.0,72.1 95.5,71.9 96.0,71.7 96.5,71.5 97.0,71.4 97.5,70.9 98.0,70.3 98.5,69.7 99.0,69.1 99.5,68.5 100.0,67.9 100.5,67.3 101.0,66.7 101.5,66.9 102.0,67.1 102.5,67.4 103.0,67.6 103.5,67.7 104.0,67.7 104.5,67.6 105.0,67.5 105.5,67.5 106.0,67.1 106.5,66.6 107.0,66.1 107.5,65.6 108.0,65.1 108.5,64.3 109.0,63.6 109.5,62.8 110.0,62.0 110.5,61.6 111.0,61.7 111.5,61.8 112.0,61.9 112.5,62.0 113.0,62.1 113.5,62.2 114.0,62.3 114.5,62.4 115.0,62.5 115.5,62.9 116.0,63.3 116.5,63.7 117.0,64.2 117.5,64.6 118.0,65.0 118.5,65.3 119.0,65.6 119.5,65.8 120.0,66.1 120.5,66.3 121.0,66.6 121.5,67.0 122.0,67.7 122.5,68.4 123.0,69.0 123.5,69.7 124.0,69.6 124.5,69.5 125.0,69.4 125.5,69.2 126.0,69.1 126.5,68.9 127.0,68.8 127.5,68.7 128.0,69.1 128.5,69.5 129.0,69.9 129.5,70.3 130.0,70.7 130.5,71.1 131.0,71.5 131.5,71.9 132.0,72.3 132.5,72.7 133.0,73.1 133.5,73.5 134.0,74.2 134.5,74.9 135.0,75.6 135.5,76.4 136.0,77.1 136.5,76.9 137.0,76.7 137.5,76.6 138.0,76.4 138.5,76.2 139.0,76.0 139.5,75.8 140.0,75.5 140.5,75.3 141.0,75.0 141.5,74.8 142.0,74.5 142.5,74.6 143.0,75.0 143.5,75.3 144.0,75.6 144.5,76.0 145.0,75.9 145.5,75.8 146.0,75.7 146.5,75.6 147.0,75.5 147.5,75.4 148.0,75.3 148.5,75.2 149.0,74.9 149.5,74.6 150.0,74.4 150.5,74.1 151.0,74.2 151.5,74.8 152.0,75.3 152.5,75.8 153.0,76.4 153.5,76.2 154.0,75.8 154.5,75.4 155.0,75.1 155.5,74.8 156.0,75.1 156.5,75.4 157.0,75.8 157.5,76.1 158.0,76.4 158.5,76.7 159.0,76.7 159.5,76.7 160.0,76.6 160.5,76.6 161.0,76.5 161.5,76.5 162.0,76.5 162.5,76.6 163.0,76.7 163.5,76.8 164.0,76.9 164.5,77.0 165.0,77.2 165.5,77.3 166.0,77.5 166.5,77.6 167.0,77.8 167.5,78.0 168.0,78.1 168.5,78.3 169.0,78.1 169.5,77.8 170.0,77.5 170.5,77.2 171.0,76.9 171.5,76.6 172.0,76.3 172.5,76.0 173.0,75.6 173.5,75.1 174.0,74.7 174.5,74.3 175.0,73.8 175.5,74.2 176.0,74.9 176.5,75.7 177.0,76.5 177.5,77.1 178.0,77.6 178.5,78.2 179.0,78.7 179.5,79.2 180.0,79.6 180.5,79.4 181.0,79.2 181.5,79.0 182.0,78.8 182.5,78.6 183.0,78.4 183.5,78.5 184.0,78.6 184.5,78.8 185.0,79.0 185.5,79.0 186.0,78.3 186.5,77.6 187.0,76.8 187.5,76.1 188.0,75.3 188.5,75.6 189.0,76.1 189.5,76.5 190.0,77.0 190.5,77.2 191.0,77.4 191.5,77.6 192.0,77.8 192.5,78.1 193.0,78.4 193.5,78.7 194.0,79.0 194.5,79.3 195.0,79.6 195.5,79.9 196.0,79.6 196.5,79.3 197.0,78.9 197.5,78.6 198.0,78.3 198.5,78.2 199.0,78.0 199.5,77.9 200.0,77.8 200.5,77.7 201.0,77.5 201.5,77.0 202.0,76.5 202.5,76.0 203.0,75.5 203.5,75.5 204.0,76.2 204.5,77.0 205.0,77.5 205.5,77.3 206.0,77.2 206.5,77.0 207.0,76.8 207.5,76.6 208.0,76.5 208.5,76.3 209.0,76.1 209.5,75.9 210.0,75.7 210.5,75.5 211.0,75.3 211.5,75.3 212.0,75.5 212.5,75.7 213.0,75.8 213.5,76.0 214.0,75.8 214.5,75.7 215.0,75.6 215.5,75.4 216.0,75.3 216.5,75.1 217.0,75.0 217.5,74.7 218.0,74.2 218.5,73.7 219.0,73.1 219.5,72.6 220.0,72.2 220.5,71.8 221.0,71.5 221.5,71.4 222.0,71.6 222.5,71.8 223.0,71.9 223.5,72.1 224.0,72.0 224.5,71.8 225.0,71.6 225.5,71.5 226.0,71.4 226.5,71.7 227.0,72.1 227.5,72.4 228.0,72.7 228.5,72.6 229.0,72.0 229.5,71.5 230.0,70.9 230.5,70.3 231.0,69.8 231.5,70.4 232.0,71.0 232.5,71.6 233.0,72.2 233.5,72.7 234.0,73.2 234.5,73.7 235.0,74.2 235.5,74.6 236.0,74.8 236.5,75.1 237.0,75.3 237.5,75.6 238.0,75.8 238.5,76.0 239.0,76.2 239.5,76.3 240.0,76.4 240.5,76.5 241.0,76.7 241.5,76.9 242.0,77.8 242.5,78.7 243.0,79.6 243.5,79.1 244.0,78.7 244.5,78.3 245.0,77.8 245.5,77.9 246.0,78.7 246.5,79.5 247.0,80.4 247.5,80.3 248.0,79.7 248.5,79.1 249.0,78.6 249.5,77.9 250.0,77.2 250.5,76.4 251.0,75.7 251.5,75.0 252.0,75.3 252.5,75.7 253.0,76.1 253.5,76.5 254.0,76.7 254.5,76.6 255.0,76.4 255.5,76.2 256.0,76.1 256.5,76.7 257.0,78.0 257.5,79.2 258.0,79.7 258.5,79.3 259.0,78.9 259.5,78.5 260.0,78.1 260.5,77.9 261.0,77.7 261.5,77.5 262.0,77.3 262.5,77.1 263.0,76.9 263.5,76.8 264.0,76.9 264.5,77.0 265.0,77.0 265.5,77.1 266.0,77.2 266.5,77.2 267.0,77.2 267.5,77.1 268.0,77.0 268.5,77.0 269.0,76.9 269.5,76.9 270.0,76.8 270.5,76.7 271.0,76.5 271.5,76.4 272.0,76.2 272.5,76.0 273.0,75.9 273.5,75.7 274.0,75.6 274.5,75.4 275.0,75.3 275.5,75.2 276.0,75.1 276.5,75.0 277.0,74.9 277.5,75.0 278.0,75.1 278.5,75.3 279.0,75.4 279.5,75.5 280.0,76.0 280.5,76.2 281.0,76.5 281.5,76.7 282.0,76.9 282.5,77.1 283.0,77.0 283.5,76.9 284.0,76.9 284.5,76.8 285.0,77.2 285.5,77.9 286.0,78.6 286.5,79.2 287.0,79.9 287.5,80.5 288.0,81.0 288.5,81.6 289.0,82.2 289.5,81.8 290.0,81.5 290.5,81.1 291.0,80.7 291.5,80.3 292.0,80.1 292.5,80.0 293.0,79.9 293.5,79.8 294.0,79.7 294.5,79.6 295.0,79.5 295.5,79.2 296.0,78.9 296.5,78.7 297.0,78.4 297.5,78.7 298.0,79.2 298.5,79.7 299.0,80.2 299.5,80.7 300.0,80.8 300.5,80.9 301.0,81.1 301.5,81.2 302.0,81.3 302.5,81.4 303.0,81.1 303.5,80.8 304.0,80.5 304.5,80.1 305.0,79.7 305.5,78.7 306.0,77.7 306.5,76.7 307.0,75.7 307.5,74.7 308.0,73.9 308.5,73.1 309.0,72.2 309.5,71.4 310.0,71.0 310.5,70.7 311.0,70.4 311.5,70.0 312.0,69.9 312.5,70.3 313.0,70.6 313.5,71.0 314.0,71.5 314.5,72.6 315.0,73.7 315.5,74.8 316.0,75.8 316.5,75.7 317.0,75.3 317.5,74.9 318.0,74.5 318.5,74.0 319.0,73.5 319.5,73.0 320.0,74.0 320.5,75.7 321.0,77.3 321.5,77.8 322.0,77.5 322.5,77.2 323.0,76.8 323.5,76.5 324.0,76.1 324.5,75.6 325.0,75.2 325.5,74.8 326.0,74.6 326.5,75.4 327.0,76.2 327.5,76.9 328.0,77.7 328.5,78.5 329.0,79.4 329.5,80.3 330.0,81.2 330.5,82.1 331.0,81.8 331.5,81.3 332.0,80.8 332.5,80.3 333.0,80.0 333.5,80.7 334.0,81.3 334.5,81.0 335.0,80.3 335.5,79.7 336.0,79.1 336.5,79.3 337.0,79.4 337.5,79.6 338.0,78.3 338.5,76.9 339.0,75.5 339.5,74.8 340.0,74.3 340.5,73.8 341.0,73.3 341.5,72.7 342.0,71.7 342.5,70.7 343.0,69.8 343.5,71.3 344.0,72.8 344.5,74.3 345.0,74.1 345.5,73.8 346.0,73.5 346.5,73.1 347.0,72.7 347.5,71.9 348.0,71.2 348.5,70.4 349.0,69.6 349.5,69.8 350.0,70.5 350.5,71.3 351.0,72.1 351.5,72.8 352.0,73.2 352.5,73.5 353.0,73.8 353.5,74.2 354.0,74.5 354.5,74.8 355.0,75.0 355.5,75.2 356.0,75.4 356.5,75.6 357.0,75.8 357.5,76.0 358.0,76.2 358.5,76.4 359.0,76.7 359.5,76.9 360.0,77.2 360.5,77.4 361.0,77.6 361.5,77.9 362.0,78.1 362.5,78.3 363.0,78.3 363.5,78.2 364.0,78.2 364.5,78.1 365.0,78.1 365.5,78.0 366.0,78.2 366.5,78.5 367.0,78.7 367.5,78.9 368.0,79.3 368.5,79.8 369.0,80.4 369.5,81.0 370.0,81.5 370.5,81.5 371.0,81.0 371.5,80.5 372.0,80.1 372.5,79.6 373.0,79.9 373.5,80.3 374.0,80.7 374.5,81.1 375.0,81.5 375.5,81.8 376.0,82.0 376.5,82.3 377.0,82.6 377.5,82.6 378.0,82.4 378.5,82.2 379.0,82.0 379.5,81.8 380.0,81.7 380.5,81.7 381.0,81.6 381.5,81.5 382.0,81.5 382.5,81.5 383.0,81.7 383.5,81.8 384.0,82.0 384.5,82.2 385.0,82.0 385.5,81.7 386.0,81.3 386.5,81.0 387.0,80.7 387.5,80.5 388.0,80.3 388.5,80.1 389.0,80.0 389.5,79.8 390.0,79.6 390.5,79.6 391.0,79.7 391.5,79.7 392.0,79.8 392.5,79.8 393.0,79.9 393.5,79.9 394.0,80.0 394.5,80.0 395.0,80.1 395.5,80.1 396.0,80.2 396.5,80.2 397.0,80.1 397.5,80.1 398.0,80.0 398.5,80.0 399.0,79.9 399.5,79.9 400.0,80.0 400.5,80.1 401.0,80.3 401.5,80.4 402.0,80.5 402.5,80.6 403.0,80.6 403.5,80.5 404.0,80.4 404.5,80.4 405.0,80.3 405.5,80.2 406.0,80.0 406.5,79.6 407.0,79.3 407.5,79.0 408.0,78.6 408.5,78.4 409.0,78.2 409.5,77.9 410.0,77.7 410.5,77.5 411.0,77.2 411.5,77.0 412.0,76.9 412.5,77.4 413.0,77.9 413.5,78.4 414.0,78.9 414.5,79.5 415.0,80.0 415.5,80.6 416.0,81.1 416.5,81.7 417.0,81.4 417.5,81.0 418.0,80.6 418.5,80.2 419.0,79.8 419.5,79.4 420.0,79.0 420.5,78.5 421.0,78.1 421.5,77.7 422.0,77.6 422.5,77.6 423.0,77.6 423.5,77.6 424.0,77.6 424.5,77.6 425.0,77.6 425.5,77.6 426.0,77.7 426.5,77.8 427.0,77.8 427.5,77.9 428.0,78.0 428.5,78.0 429.0,78.0 429.5,78.0 430.0,78.0 430.5,78.0 431.0,78.0 431.5,78.1 432.0,78.2 432.5,78.3 433.0,78.5 433.5,78.6 434.0,78.8 434.5,79.0 435.0,79.3 435.5,79.5 436.0,79.3 436.5,78.9 437.0,78.6 437.5,78.2 438.0,77.8 438.5,77.4 439.0,77.0 439.5,76.7 440.0,76.3 440.5,75.9 441.0,75.5 441.5,75.2 442.0,75.4 442.5,75.5 443.0,75.6 443.5,75.7 444.0,75.9 444.5,76.0 445.0,76.1 445.5,76.3 446.0,76.5 446.5,76.6 447.0,76.9 447.5,77.5 448.0,78.1 448.5,78.7 449.0,79.3 449.5,79.7 450.0,79.8 450.5,79.9 451.0,80.1 451.5,80.2 452.0,79.6 452.5,79.0 453.0,78.4 453.5,76.9 454.0,75.2 454.5,73.4 455.0,72.4 455.5,71.8 456.0,71.1 456.5,70.4 457.0,69.8 457.5,70.0 458.0,70.3 458.5,70.5 459.0,69.9 459.5,69.2 460.0,68.5 460.5,67.8 461.0,68.2 461.5,68.8 462.0,69.3 462.5,69.8 463.0,70.0 463.5,70.1 464.0,70.3 464.5,70.5 465.0,70.1 465.5,69.2 466.0,68.2 466.5,69.0 467.0,69.9 467.5,70.7 468.0,71.5 468.5,72.0 469.0,72.5 469.5,72.8 470.0,72.1 470.5,71.5 471.0,70.8 471.5,70.1 472.0,69.0 472.5,67.5 473.0,66.0 473.5,64.4 474.0,64.3 474.5,66.0 475.0,67.6 475.5,69.3 476.0,70.7 476.5,71.9 477.0,73.2 477.5,74.2 478.0,75.0 478.5,75.9 479.0,76.8 479.5,77.6 480.0,78.3 480.5,78.2 481.0,78.1 481.5,78.0 482.0,77.8 482.5,77.7 483.0,77.6 483.5,76.8 484.0,75.8 484.5,74.8 485.0,73.8 485.5,72.9 486.0,72.9 486.5,72.9 487.0,72.9 487.5,72.9 488.0,73.0 488.5,73.4 489.0,73.7 489.5,74.0 490.0,74.4 490.5,74.3 491.0,74.0 491.5,73.8 492.0,73.6 492.5,73.3 493.0,72.7 493.5,72.1 494.0,71.5 494.5,70.9 495.0,70.8 495.5,71.4 496.0,72.0 496.5,72.3 497.0,71.9 497.5,71.6 498.0,71.1 498.5,70.1 499.0,69.2 499.5,68.2 500.0,67.7 500.5,68.8 501.0,70.0 501.5,71.2 502.0,71.3 502.5,70.2 503.0,69.1 503.5,68.1 504.0,68.0 504.5,68.3 505.0,68.6 505.5,68.9 506.0,68.9 506.5,68.7 507.0,68.5 507.5,68.3 508.0,68.7 508.5,69.6 509.0,70.4 509.5,71.2 510.0,72.2 510.5,73.2 511.0,74.2 511.5,75.2 512.0,76.2 512.5,76.9 513.0,77.7 513.5,78.3 514.0,77.9 514.5,77.5 515.0,77.1 515.5,76.7 516.0,76.1 516.5,75.5 517.0,74.8 517.5,74.4 518.0,74.3 518.5,74.2 519.0,74.1 519.5,74.0 520.0,73.2 520.5,72.1 521.0,71.0 521.5,69.9 522.0,68.7 522.5,69.0 523.0,69.4 523.5,69.7 524.0,70.0 524.5,70.3 525.0,70.5 525.5,69.0 526.0,67.1 526.5,65.2 527.0,65.4 527.5,66.6 528.0,67.7 528.5,68.0 529.0,67.7 529.5,67.3 530.0,67.4 530.5,68.0 531.0,68.6 531.5,68.8 532.0,68.1 532.5,67.4 533.0,66.8 533.5,66.1 534.0,66.0 534.5,66.2 535.0,66.3 535.5,66.5 536.0,66.7 536.5,66.4 537.0,66.2 537.5,66.0 538.0,65.7 538.5,65.7 539.0,66.1 539.5,66.5 540.0,66.9 540.5,67.3 541.0,67.4 541.5,67.3 542.0,67.3 542.5,67.2 543.0,67.1 543.5,67.1 544.0,67.1 544.5,67.1 545.0,67.1 545.5,67.8 546.0,68.5 546.5,69.2 547.0,70.3 547.5,71.5 548.0,72.7 548.5,73.7 549.0,74.0 549.5,74.2 550.0,74.5 550.5,74.8 551.0,75.0 551.5,75.3 552.0,75.5 552.5,75.7 553.0,76.0 553.5,76.4 554.0,76.9 554.5,77.4 555.0,77.9 555.5,78.4 556.0,79.0 556.5,79.6 557.0,80.2 557.5,80.8 558.0,80.4 558.5,79.0 559.0,77.6 559.5,78.4 560.0,79.2 560.5,80.0 561.0,80.5 561.5,79.8 562.0,79.2 562.5,78.7 563.0,78.8 563.5,78.9 564.0,79.0 564.5,79.1 565.0,79.0 565.5,78.9 566.0,78.7 566.5,78.5 567.0,78.4 567.5,78.6 568.0,78.9 568.5,79.3 569.0,79.6 569.5,79.9 570.0,79.6 570.5,79.4 571.0,79.2 571.5,79.0 572.0,78.8 572.5,78.7 573.0,79.0 573.5,79.3 574.0,79.5 574.5,79.8 575.0,79.7 575.5,79.3 576.0,79.0 576.5,78.7 577.0,78.3 577.5,77.6 578.0,76.8 578.5,76.1 579.0,76.1 579.5,76.2 580.0,76.3 580.5,76.4 581.0,76.5 581.5,76.9 582.0,77.2 582.5,77.5 583.0,77.9 583.5,78.1 584.0,78.4 584.5,78.6 585.0,78.8 585.5,79.1 586.0,79.0 586.5,79.0 587.0,78.9 587.5,78.8 588.0,78.7 588.5,78.7 589.0,78.7 589.5,78.7 590.0,78.8 590.5,78.9 591.0,78.9 591.5,79.0 592.0,79.0 592.5,79.1 593.0,78.4 593.5,77.7 594.0,76.9 594.5,76.6 595.0,76.3 595.5,76.1 596.0,76.3 596.5,76.8 597.0,77.3 597.5,77.8 598.0,78.3 598.5,78.5 599.0,78.7 599.5,78.8 600.0,79.0 600.5,79.1 601.0,79.0 601.5,78.9 602.0,78.9 602.5,78.8 603.0,78.7 603.5,78.7 604.0,78.9 604.5,79.1 605.0,79.3 605.5,79.5 606.0,79.7 606.5,79.9 607.0,79.8 607.5,79.8 608.0,79.7 608.5,79.6 609.0,79.4 609.5,78.8 610.0,78.1 610.5,77.5 611.0,77.2 611.5,76.8 612.0,76.5 612.5,76.8 613.0,77.1 613.5,77.5 614.0,77.8 614.5,78.0 615.0,78.1 615.5,78.2 616.0,78.2 616.5,78.3 617.0,78.4 617.5,78.4 618.0,78.5 618.5,78.5 619.0,78.6 619.5,78.6 620.0,78.7 620.5,78.7 621.0,78.7 621.5,78.7 622.0,78.8 622.5,78.8 623.0,78.8 623.5,78.9 624.0,78.9 624.5,79.0 625.0,79.1 625.5,79.1 626.0,79.1 626.5,79.1 627.0,79.1 627.5,79.1 628.0,79.1 628.5,79.1 629.0,79.2 629.5,79.3 630.0,79.4 630.5,79.4 631.0,79.5 631.5,79.6 632.0,79.4 632.5,79.3 633.0,79.1 633.5,78.6 634.0,78.1 634.5,77.6 635.0,77.4 635.5,77.3 636.0,77.1 636.5,77.0 637.0,76.8 637.5,77.8" fill="none" stroke="#1a0300" stroke-width="1.15" stroke-linejoin="round"/>
<polyline points="81.5,131.8 82.0,130.7 82.5,125.3 83.0,118.0 83.5,113.9 84.0,112.0 84.5,111.0 85.0,110.0 85.5,109.3 86.0,108.6 86.5,107.9 87.0,107.2 87.5,106.5 88.0,105.8 88.5,105.2 89.0,104.5 89.5,103.8 90.0,104.4 90.5,105.1 91.0,105.7 91.5,106.3 92.0,106.9 92.5,106.8 93.0,106.4 93.5,106.1 94.0,105.7 94.5,105.3 95.0,105.2 95.5,105.3 96.0,105.5 96.5,105.7 97.0,105.9 97.5,106.1 98.0,106.3 98.5,106.4 99.0,106.6 99.5,106.7 100.0,106.1 100.5,105.6 101.0,105.0 101.5,104.4 102.0,103.8 102.5,103.3 103.0,102.5 103.5,101.6 104.0,100.8 104.5,100.0 105.0,99.2 105.5,98.7 106.0,98.2 106.5,97.8 107.0,98.0 107.5,98.1 108.0,98.3 108.5,98.5 109.0,98.5 109.5,98.3 110.0,98.1 110.5,98.0 111.0,97.8 111.5,97.3 112.0,96.6 112.5,96.0 113.0,95.5 113.5,96.0 114.0,96.5 114.5,97.0 115.0,96.4 115.5,95.8 116.0,95.2 116.5,95.4 117.0,95.7 117.5,96.1 118.0,96.4 118.5,96.7 119.0,97.1 119.5,97.6 120.0,98.1 120.5,98.6 121.0,99.1 121.5,99.6 122.0,100.1 122.5,100.6 123.0,101.1 123.5,101.6 124.0,102.1 124.5,102.6 125.0,103.1 125.5,103.5 126.0,103.9 126.5,104.3 127.0,104.6 127.5,105.0 128.0,105.4 128.5,106.1 129.0,107.1 129.5,108.0 130.0,109.0 130.5,107.6 131.0,105.7 131.5,103.9 132.0,102.0 132.5,101.1 133.0,100.3 133.5,99.6 134.0,99.5 134.5,99.7 135.0,100.0 135.5,99.6 136.0,98.8 136.5,98.0 137.0,97.1 137.5,96.3 138.0,95.9 138.5,95.5 139.0,95.2 139.5,96.2 140.0,97.6 140.5,98.9 141.0,98.7 141.5,97.9 142.0,97.0 142.5,96.6 143.0,96.6 143.5,96.5 144.0,96.4 144.5,96.3 145.0,96.3 145.5,96.4 146.0,96.9 146.5,97.4 147.0,97.9 147.5,98.4 148.0,98.0 148.5,97.3 149.0,96.6 149.5,95.8 150.0,95.1 150.5,95.7 151.0,96.3 151.5,96.9 152.0,103.0 152.5,96.2 153.0,95.8 153.5,95.5 154.0,95.1 154.5,94.8 155.0,94.0 155.5,93.0 156.0,92.0 156.5,92.3 157.0,93.7 157.5,95.0 158.0,95.5 158.5,95.1 159.0,94.7 159.5,94.3 160.0,93.8 160.5,93.4 161.0,93.0 161.5,92.8 162.0,92.5 162.5,92.3 163.0,92.0 163.5,91.7 164.0,91.5 164.5,91.2 165.0,91.7 165.5,93.0 166.0,94.8 166.5,98.0 167.0,101.1 167.5,102.7 168.0,103.9 168.5,105.2 169.0,106.4 169.5,107.7 170.0,108.9 170.5,110.3 171.0,111.6 171.5,112.7 172.0,111.1 172.5,109.5 173.0,107.9 173.5,105.7 174.0,104.7 174.5,105.2 175.0,105.2 175.5,104.1 176.0,102.9 176.5,101.7 177.0,100.6 177.5,99.5 178.0,98.6 178.5,97.7 179.0,96.7 179.5,95.8 180.0,93.1 180.5,92.9 181.0,92.7 181.5,92.5 182.0,92.7 182.5,94.3 183.0,95.9 183.5,97.2 184.0,98.4 184.5,99.7 185.0,101.3 185.5,103.0 186.0,104.2 186.5,102.8 187.0,101.3 187.5,101.1 188.0,100.8 188.5,100.5 189.0,100.3 189.5,99.9 190.0,99.4 190.5,98.9 191.0,98.4 191.5,97.9 192.0,97.8 192.5,97.9 193.0,98.0 193.5,98.1 194.0,98.2 194.5,97.8 195.0,97.4 195.5,97.0 196.0,96.6 196.5,96.2 197.0,95.8 197.5,95.6 198.0,95.4 198.5,95.3 199.0,95.1 199.5,94.9 200.0,94.7 200.5,94.6 201.0,94.5 201.5,94.5 202.0,94.4 202.5,94.3 203.0,94.2 203.5,94.1 204.0,93.9 204.5,93.7 205.0,93.5 205.5,93.3 206.0,93.1 206.5,92.9 207.0,92.7 207.5,92.9 208.0,93.3 208.5,93.7 209.0,94.2 209.5,94.6 210.0,94.5 210.5,94.3 211.0,94.2 211.5,94.0 212.0,94.0 212.5,94.7 213.0,95.4 213.5,96.0 214.0,96.7 214.5,96.9 215.0,96.7 215.5,96.6 216.0,96.4 216.5,96.2 217.0,96.4 217.5,96.7 218.0,96.9 218.5,97.2 219.0,97.4 219.5,97.7 220.0,97.9 220.5,98.0 221.0,98.2 221.5,98.4 222.0,98.6 222.5,99.5 223.0,100.5 223.5,101.4 224.0,102.4 224.5,100.0 225.0,97.5 225.5,95.4 226.0,95.3 226.5,95.3 227.0,95.2 227.5,94.9 228.0,93.4 228.5,91.9 229.0,90.4 229.5,90.0 230.0,89.6 230.5,89.1 231.0,88.7 231.5,88.3 232.0,88.1 232.5,87.8 233.0,87.6 233.5,87.3 234.0,87.1 234.5,86.9 235.0,86.7 235.5,86.6 236.0,86.5 236.5,86.4 237.0,86.2 237.5,86.1 238.0,85.9 238.5,85.6 239.0,85.4 239.5,85.1 240.0,84.9 240.5,84.6 241.0,85.6 241.5,87.3 242.0,90.0 242.5,89.2 243.0,86.1 243.5,86.0 244.0,85.9 244.5,85.7 245.0,85.6 245.5,85.5 246.0,85.4 246.5,85.5 247.0,85.8 247.5,86.0 248.0,86.3 248.5,86.5 249.0,86.8 249.5,87.0 250.0,87.3 250.5,87.5 251.0,87.8 251.5,88.0 252.0,88.3 252.5,88.5 253.0,88.8 253.5,89.0 254.0,89.3 254.5,89.5 255.0,89.8 255.5,90.0 256.0,89.9 256.5,89.8 257.0,89.8 257.5,89.7 258.0,89.6 258.5,89.5 259.0,89.6 259.5,89.7 260.0,89.7 260.5,89.8 261.0,89.9 261.5,90.0 262.0,90.2 262.5,90.4 263.0,90.7 263.5,90.9 264.0,91.2 264.5,91.4 265.0,91.9 265.5,92.5 266.0,93.2 266.5,93.9 267.0,94.5 267.5,95.1 268.0,95.6 268.5,96.1 269.0,96.6 269.5,97.0 270.0,96.7 270.5,96.4 271.0,96.2 271.5,95.9 272.0,95.8 272.5,96.0 273.0,96.1 273.5,96.3 274.0,96.4 274.5,96.6 275.0,96.7 275.5,96.8 276.0,96.9 276.5,97.0 277.0,97.1 277.5,97.2 278.0,97.3 278.5,97.5 279.0,97.6 279.5,97.8 280.0,97.8 280.5,98.7 281.0,99.6 281.5,101.7 282.0,105.0 282.5,106.3 283.0,104.1 283.5,101.8 284.0,100.0 284.5,99.8 285.0,99.5 285.5,99.4 286.0,100.2 286.5,100.9 287.0,101.7 287.5,103.2 288.0,104.7 288.5,106.2 289.0,108.6 289.5,111.1 290.0,110.9 290.5,109.6 291.0,108.8 291.5,109.4 292.0,110.0 292.5,112.1 293.0,114.6 293.5,115.0 294.0,113.7 294.5,112.5 295.0,111.6 295.5,111.3 296.0,110.9 296.5,110.4 297.0,109.5 297.5,108.6 298.0,107.8 298.5,107.6 299.0,107.3 299.5,107.0 300.0,106.3 300.5,105.5 301.0,104.8 301.5,106.1 302.0,107.8 302.5,109.7 303.0,111.3 303.5,112.3 304.0,114.9 304.5,119.9 305.0,125.8 305.5,128.4 306.0,127.6 306.5,131.6 307.0,134.5 307.5,136.6 308.0,141.0 308.5,146.8 309.0,151.3 309.5,155.6 310.0,160.2 310.5,160.3 311.0,151.7 311.5,143.1 312.0,135.4 312.5,128.5 313.0,123.5 313.5,118.5 314.0,113.5 314.5,109.6 315.0,108.1 315.5,116.1 316.0,113.7 316.5,108.3 317.0,107.1 317.5,106.3 318.0,106.1 318.5,105.8 319.0,105.6 319.5,105.8 320.0,106.0 320.5,106.2 321.0,106.1 321.5,105.7 322.0,105.4 322.5,105.0 323.0,104.8 323.5,105.0 324.0,105.2 324.5,105.3 325.0,105.5 325.5,105.3 326.0,105.1 326.5,104.8 327.0,105.5 327.5,106.5 328.0,107.5 328.5,107.2 329.0,105.9 329.5,104.7 330.0,104.1 330.5,104.4 331.0,104.6 331.5,104.5 332.0,103.9 332.5,103.2 333.0,102.5 333.5,101.9 334.0,101.4 334.5,101.1 335.0,100.8 335.5,100.4 336.0,100.1 336.5,99.1 337.0,98.1 337.5,97.1 338.0,96.1 338.5,95.0 339.0,93.7 339.5,92.5 340.0,91.6 340.5,91.8 341.0,91.9 341.5,92.1 342.0,92.3 342.5,91.9 343.0,91.1 343.5,90.4 344.0,89.7 344.5,89.0 345.0,88.3 345.5,87.7 346.0,87.0 346.5,88.3 347.0,89.5 347.5,89.4 348.0,89.2 348.5,89.1 349.0,89.0 349.5,88.8 350.0,88.6 350.5,88.4 351.0,88.2 351.5,88.0 352.0,87.8 352.5,87.5 353.0,87.2 353.5,86.9 354.0,86.6 354.5,86.3 355.0,86.0 355.5,85.8 356.0,85.8 356.5,85.9 357.0,85.9 357.5,86.0 358.0,86.0 358.5,86.0 359.0,86.1 359.5,86.1 360.0,86.0 360.5,85.9 361.0,85.8 361.5,85.7 362.0,85.6 362.5,85.5 363.0,85.4 363.5,85.3 364.0,85.3 364.5,85.2 365.0,85.2 365.5,85.1 366.0,85.1 366.5,85.1 367.0,85.0 367.5,85.0 368.0,85.0 368.5,85.0 369.0,85.0 369.5,84.9 370.0,84.9 370.5,84.9 371.0,84.9 371.5,84.9 372.0,84.8 372.5,84.8 373.0,84.8 373.5,84.7 374.0,84.7 374.5,84.7 375.0,84.6 375.5,84.6 376.0,84.6 376.5,84.6 377.0,84.8 377.5,85.1 378.0,85.3 378.5,85.6 379.0,85.8 379.5,86.1 380.0,85.3 380.5,85.7 381.0,86.0 381.5,86.3 382.0,86.7 382.5,87.1 383.0,87.8 383.5,88.4 384.0,89.1 384.5,89.8 385.0,90.3 385.5,90.7 386.0,91.1 386.5,91.6 387.0,92.0 387.5,91.7 388.0,91.5 388.5,91.2 389.0,90.9 389.5,90.6 390.0,90.3 390.5,89.9 391.0,89.5 391.5,89.1 392.0,88.8 392.5,88.4 393.0,88.2 393.5,87.9 394.0,87.7 394.5,87.4 395.0,87.2 395.5,86.9 396.0,87.5 396.5,88.1 397.0,88.8 397.5,89.5 398.0,90.1 398.5,90.6 399.0,91.1 399.5,91.6 400.0,92.1 400.5,92.6 401.0,93.1 401.5,93.6 402.0,94.1 402.5,94.6 403.0,94.9 403.5,95.7 404.0,96.5 404.5,97.3 405.0,98.2 405.5,99.0 406.0,99.9 406.5,100.7 407.0,101.5 407.5,101.5 408.0,101.4 408.5,101.3 409.0,101.3 409.5,101.6 410.0,102.6 410.5,103.6 411.0,104.6 411.5,105.6 412.0,106.7 412.5,107.8 413.0,109.0 413.5,110.2 414.0,111.3 414.5,111.2 415.0,111.1 415.5,111.0 416.0,110.9 416.5,110.8 417.0,110.6 417.5,110.4 418.0,110.7 418.5,112.8 419.0,114.9 419.5,116.9 420.0,117.9 420.5,118.9 421.0,119.9 421.5,116.6 422.0,113.4 422.5,110.1 423.0,109.8 423.5,109.8 424.0,109.8 424.5,111.9 425.0,114.7 425.5,117.4 426.0,119.6 426.5,121.5 427.0,122.5 427.5,120.0 428.0,117.5 428.5,115.0 429.0,112.6 429.5,110.1 430.0,107.7 430.5,105.3 431.0,106.4 431.5,108.7 432.0,111.0 432.5,112.7 433.0,114.5 433.5,115.7 434.0,113.5 434.5,111.2 435.0,109.0 435.5,108.9 436.0,108.8 436.5,108.7 437.0,109.5 437.5,110.3 438.0,111.2 438.5,110.5 439.0,110.9 439.5,115.7 440.0,120.4 440.5,124.1 441.0,120.6 441.5,117.1 442.0,113.7 442.5,114.0 443.0,114.3 443.5,114.7 444.0,115.0 444.5,115.9 445.0,117.9 445.5,119.9 446.0,121.9 446.5,123.8 447.0,125.6 447.5,124.8 448.0,123.2 448.5,121.5 449.0,119.9 449.5,118.9 450.0,117.9 450.5,117.0 451.0,116.0 451.5,115.7 452.0,115.4 452.5,115.1 453.0,114.8 453.5,114.5 454.0,114.6 454.5,114.7 455.0,114.9 455.5,115.1 456.0,115.2 456.5,114.3 457.0,113.3 457.5,113.8 458.0,115.6 458.5,117.3 459.0,119.3 459.5,121.7 460.0,122.9 460.5,120.8 461.0,118.6 461.5,116.4 462.0,113.9 462.5,111.4 463.0,109.0 463.5,107.3 464.0,105.7 464.5,104.1 465.0,102.5 465.5,102.6 466.0,102.7 466.5,102.8 467.0,105.0 467.5,107.5 468.0,108.4 468.5,108.6 469.0,108.9 469.5,113.1 470.0,119.8 470.5,115.7 471.0,111.6 471.5,107.3 472.0,102.6 472.5,103.0 473.0,112.0 473.5,117.4 474.0,122.0 474.5,114.3 475.0,106.6 475.5,105.7 476.0,104.7 476.5,102.9 477.0,100.5 477.5,98.1 478.0,96.8 478.5,96.7 479.0,96.6 479.5,97.8 480.0,101.0 480.5,104.3 481.0,106.1 481.5,103.9 482.0,101.7 482.5,102.0 483.0,103.0 483.5,104.0 484.0,106.3 484.5,109.4 485.0,112.5 485.5,107.3 486.0,103.3 486.5,105.0 487.0,106.0 487.5,106.5 488.0,107.0 488.5,106.4 489.0,105.2 489.5,104.1 490.0,103.3 490.5,102.6 491.0,101.9 491.5,101.4 492.0,100.9 492.5,100.4 493.0,100.1 493.5,101.1 494.0,102.1 494.5,104.8 495.0,112.8 495.5,116.9 496.0,120.0 496.5,124.1 497.0,129.1 497.5,135.0 498.0,141.9 498.5,142.9 499.0,143.9 499.5,144.8 500.0,145.3 500.5,145.8 501.0,145.2 501.5,141.5 502.0,137.7 502.5,144.6 503.0,150.5 503.5,155.8 504.0,159.5 504.5,156.7 505.0,148.4 505.5,140.1 506.0,132.4 506.5,127.4 507.0,122.6 507.5,118.8 508.0,115.1 508.5,113.0 509.0,111.2 509.5,109.5 510.0,111.4 510.5,113.6 511.0,116.3 511.5,119.3 512.0,122.3 512.5,125.1 513.0,127.7 513.5,129.6 514.0,126.6 514.5,123.6 515.0,120.8 515.5,118.0 516.0,115.3 516.5,116.8 517.0,118.6 517.5,120.3 518.0,121.3 518.5,122.3 519.0,123.1 519.5,123.1 520.0,123.1 520.5,123.1 521.0,122.4 521.5,120.9 522.0,119.4 522.5,117.7 523.0,118.7 523.5,124.1 524.0,126.9 524.5,128.3 525.0,130.8 525.5,133.8 526.0,134.7 526.5,131.2 527.0,126.3 527.5,118.0 528.0,121.6 528.5,133.3 529.0,143.8 529.5,139.8 530.0,129.3 530.5,125.3 531.0,134.3 531.5,144.8 532.0,133.5 532.5,124.8 533.0,121.2 533.5,117.2 534.0,112.2 534.5,108.4 535.0,107.6 535.5,110.5 536.0,116.2 536.5,121.8 537.0,125.8 537.5,117.3 538.0,120.2 538.5,128.9 539.0,128.2 539.5,122.2 540.0,118.4 540.5,114.8 541.0,112.2 541.5,109.7 542.0,107.2 542.5,104.7 543.0,102.2 543.5,99.9 544.0,99.2 544.5,98.8 545.0,98.5 545.5,98.2 546.0,97.8 546.5,97.0 547.0,96.0 547.5,95.0 548.0,97.1 548.5,101.0 549.0,107.0 549.5,105.9 550.0,100.0 550.5,98.3 551.0,96.5 551.5,94.8 552.0,94.2 552.5,93.7 553.0,93.2 553.5,92.9 554.0,92.7 554.5,92.4 555.0,92.2 555.5,92.1 556.0,92.4 556.5,92.7 557.0,93.1 557.5,93.4 558.0,93.8 558.5,94.3 559.0,94.8 559.5,95.1 560.0,95.0 560.5,94.9 561.0,94.9 561.5,94.8 562.0,94.7 562.5,94.6 563.0,94.5 563.5,94.4 564.0,94.3 564.5,94.1 565.0,94.0 565.5,93.9 566.0,94.4 566.5,95.0 567.0,95.6 567.5,96.2 568.0,96.5 568.5,95.9 569.0,95.3 569.5,94.8 570.0,94.6 570.5,94.5 571.0,94.3 571.5,94.1 572.0,94.0 572.5,93.7 573.0,93.1 573.5,92.5 574.0,92.0 574.5,92.0 575.0,93.5 575.5,95.0 576.0,96.0 576.5,95.0 577.0,94.0 577.5,93.1 578.0,93.3 578.5,93.5 579.0,93.7 579.5,94.4 580.0,95.8 580.5,97.3 581.0,98.7 581.5,98.8 582.0,97.9 582.5,97.0 583.0,96.1 583.5,95.5 584.0,95.0 584.5,94.6 585.0,94.1 585.5,93.6 586.0,93.3 586.5,92.9 587.0,92.6 587.5,92.5 588.0,93.9 588.5,95.3 589.0,95.2 589.5,94.3 590.0,93.5 590.5,93.2 591.0,93.3 591.5,93.4 592.0,93.5 592.5,93.6 593.0,94.5 593.5,95.5 594.0,96.6 594.5,97.6 595.0,98.3 595.5,98.9 596.0,99.6 596.5,99.9 597.0,98.5 597.5,97.1 598.0,95.7 598.5,95.6 599.0,95.5 599.5,95.3 600.0,95.2 600.5,95.3 601.0,95.9 601.5,96.5 602.0,97.0 602.5,97.6 603.0,97.6 603.5,97.4 604.0,97.1 604.5,96.9 605.0,96.7 605.5,96.5 606.0,96.3 606.5,96.1 607.0,95.9 607.5,96.0 608.0,96.8 608.5,97.5 609.0,98.3 609.5,99.1 610.0,99.4 610.5,99.5 611.0,99.7 611.5,99.8 612.0,99.9 612.5,100.0 613.0,100.3 613.5,100.7 614.0,101.1 614.5,101.5 615.0,101.9 615.5,102.2 616.0,102.6 616.5,102.9 617.0,103.2 617.5,103.5 618.0,103.6 618.5,103.7 619.0,103.8 619.5,103.9 620.0,104.1 620.5,104.2 621.0,104.4 621.5,104.6 622.0,104.7 622.5,105.1 623.0,105.5 623.5,105.9 624.0,105.6 624.5,104.9 625.0,104.3 625.5,103.9 626.0,103.8 626.5,103.7 627.0,103.6 627.5,103.5 628.0,103.3 628.5,103.1 629.0,102.9 629.5,102.0 630.0,100.8 630.5,99.7 631.0,99.4 631.5,99.5 632.0,99.6 632.5,99.7 633.0,99.8 633.5,99.9 634.0,100.0 634.5,100.1 635.0,100.2 635.5,100.3 636.0,100.4 636.5,99.9 637.0,99.3 637.5,98.7" fill="none" stroke="#1a0300" stroke-width="1.15" stroke-linejoin="round"/>
<polyline points="81.5,313.7 82.0,314.6 82.5,319.8 83.0,326.8 83.5,330.7 84.0,332.4 84.5,333.2 85.0,334.1 85.5,334.8 86.0,335.5 86.5,336.2 87.0,336.9 87.5,336.8 88.0,336.8 88.5,336.7 89.0,336.7 89.5,336.8 90.0,335.5 90.5,334.3 91.0,333.1 91.5,331.8 92.0,331.2 92.5,331.8 93.0,332.5 93.5,333.3 94.0,334.1 94.5,334.3 95.0,334.2 95.5,333.9 96.0,333.5 96.5,333.2 97.0,332.8 97.5,332.1 98.0,331.4 98.5,330.6 99.0,329.8 99.5,329.1 100.0,329.1 100.5,329.1 101.0,329.0 101.5,329.8 102.0,330.7 102.5,331.5 103.0,332.5 103.5,333.4 104.0,334.2 104.5,335.0 105.0,335.7 105.5,336.1 106.0,336.2 106.5,336.1 107.0,335.5 107.5,334.8 108.0,334.2 108.5,333.2 109.0,332.4 109.5,331.9 110.0,331.3 110.5,331.0 111.0,331.2 111.5,331.9 112.0,332.6 112.5,333.3 113.0,333.9 113.5,333.5 114.0,333.2 114.5,332.8 115.0,333.4 115.5,334.4 116.0,335.4 116.5,335.7 117.0,335.8 117.5,335.9 118.0,335.9 118.5,335.9 119.0,335.8 119.5,335.5 120.0,335.3 120.5,335.0 121.0,334.8 121.5,334.8 122.0,334.9 122.5,335.1 123.0,335.3 123.5,335.4 124.0,334.9 124.5,334.2 125.0,333.6 125.5,333.1 126.0,332.6 126.5,332.0 127.0,331.5 127.5,331.1 128.0,331.1 128.5,330.8 129.0,330.3 129.5,329.7 130.0,329.1 130.5,330.9 131.0,333.2 131.5,335.4 132.0,337.6 132.5,339.0 133.0,340.1 133.5,341.3 134.0,342.0 134.5,342.4 135.0,342.9 135.5,344.0 136.0,345.6 136.5,346.2 137.0,346.9 137.5,347.5 138.0,347.7 138.5,347.9 139.0,348.1 139.5,346.8 140.0,345.3 140.5,343.7 141.0,343.6 141.5,344.2 142.0,344.8 142.5,345.3 143.0,345.7 143.5,346.1 144.0,346.5 144.5,346.9 145.0,346.9 145.5,346.7 146.0,346.1 146.5,345.5 147.0,344.9 147.5,344.3 148.0,344.5 148.5,345.2 149.0,345.6 149.5,346.1 150.0,346.5 150.5,345.6 151.0,345.2 151.5,345.1 152.0,339.7 152.5,346.9 153.0,347.8 153.5,347.9 154.0,347.9 154.5,347.9 155.0,348.4 155.5,349.1 156.0,350.4 156.5,350.3 157.0,349.3 157.5,348.3 158.0,348.1 158.5,348.9 159.0,349.3 159.5,349.7 160.0,350.0 160.5,350.4 161.0,350.7 161.5,350.9 162.0,351.3 162.5,351.6 163.0,352.0 163.5,352.3 164.0,352.7 164.5,353.0 165.0,352.7 165.5,351.6 166.0,349.9 166.5,346.9 167.0,344.0 167.5,342.6 168.0,341.5 168.5,340.4 169.0,339.0 169.5,337.5 170.0,335.9 170.5,334.3 171.0,332.6 171.5,331.3 172.0,332.6 172.5,333.9 173.0,335.0 173.5,336.8 174.0,337.3 174.5,336.4 175.0,335.9 175.5,337.4 176.0,339.3 176.5,341.3 177.0,343.2 177.5,344.8 178.0,346.3 178.5,347.7 179.0,349.2 179.5,350.7 180.0,353.7 180.5,353.7 181.0,353.7 181.5,353.7 182.0,353.3 182.5,351.5 183.0,349.8 183.5,348.5 184.0,347.4 184.5,346.4 185.0,345.0 185.5,343.3 186.0,341.4 186.5,342.1 187.0,342.8 187.5,342.3 188.0,341.8 188.5,342.3 189.0,343.1 189.5,343.9 190.0,344.8 190.5,345.6 191.0,346.3 191.5,347.0 192.0,347.3 192.5,347.4 193.0,347.6 193.5,347.8 194.0,348.0 194.5,348.7 195.0,349.4 195.5,350.1 196.0,350.2 196.5,350.3 197.0,350.3 197.5,350.2 198.0,350.1 198.5,350.2 199.0,350.2 199.5,350.3 200.0,350.3 200.5,350.3 201.0,350.2 201.5,349.8 202.0,349.4 202.5,349.0 203.0,348.6 203.5,348.6 204.0,349.6 204.5,350.5 205.0,351.2 205.5,351.2 206.0,351.3 206.5,351.3 207.0,351.3 207.5,351.0 208.0,350.4 208.5,349.8 209.0,349.1 209.5,348.5 210.0,348.4 210.5,348.4 211.0,348.3 211.5,348.6 212.0,348.7 212.5,348.2 213.0,347.7 213.5,347.2 214.0,346.4 214.5,346.1 215.0,346.1 215.5,346.1 216.0,346.2 216.5,346.2 217.0,345.8 217.5,345.3 218.0,344.5 218.5,343.7 219.0,343.0 219.5,342.2 220.0,341.6 220.5,341.1 221.0,340.6 221.5,340.3 222.0,340.3 222.5,339.5 223.0,338.8 223.5,338.0 224.0,336.9 224.5,339.1 225.0,341.4 225.5,343.3 226.0,343.4 226.5,343.8 227.0,344.2 227.5,344.8 228.0,346.6 228.5,347.9 229.0,348.8 229.5,348.7 230.0,348.6 230.5,348.4 231.0,348.3 231.5,349.3 232.0,350.2 232.5,351.0 233.0,351.9 233.5,352.6 234.0,353.4 234.5,354.1 235.0,354.7 235.5,355.2 236.0,355.6 236.5,355.9 237.0,356.3 237.5,356.7 238.0,357.2 238.5,357.6 239.0,358.0 239.5,358.4 240.0,358.7 240.5,359.1 241.0,358.3 241.5,356.8 242.0,355.1 242.5,356.7 243.0,360.6 243.5,360.3 244.0,360.0 244.5,359.7 245.0,359.4 245.5,359.6 246.0,360.5 246.5,361.2 247.0,361.7 247.5,361.4 248.0,360.6 248.5,359.8 249.0,359.0 249.5,358.1 250.0,357.1 250.5,356.1 251.0,355.1 251.5,354.2 252.0,354.2 252.5,354.4 253.0,354.5 253.5,354.7 254.0,354.7 254.5,354.3 255.0,353.8 255.5,353.5 256.0,353.4 256.5,354.1 257.0,355.4 257.5,356.8 258.0,357.3 258.5,357.0 259.0,356.5 259.5,356.0 260.0,355.6 260.5,355.2 261.0,355.0 261.5,354.7 262.0,354.3 262.5,353.9 263.0,353.4 263.5,353.1 264.0,353.0 264.5,352.8 265.0,352.4 265.5,351.8 266.0,351.2 266.5,350.6 267.0,349.9 267.5,349.3 268.0,348.7 268.5,348.2 269.0,347.6 269.5,347.2 270.0,347.4 270.5,347.5 271.0,347.6 271.5,347.7 272.0,347.6 272.5,347.3 273.0,347.0 273.5,346.7 274.0,346.4 274.5,346.1 275.0,345.9 275.5,345.7 276.0,345.5 276.5,345.3 277.0,345.1 277.5,345.1 278.0,345.1 278.5,345.1 279.0,345.1 279.5,345.0 280.0,345.5 280.5,344.8 281.0,344.1 281.5,342.2 282.0,339.3 282.5,338.0 283.0,340.2 283.5,342.4 284.0,344.1 284.5,344.3 285.0,345.0 285.5,345.7 286.0,345.7 286.5,345.6 287.0,345.5 287.5,344.6 288.0,343.7 288.5,342.7 289.0,340.9 289.5,338.1 290.0,337.9 290.5,338.8 291.0,339.2 291.5,338.2 292.0,337.4 292.5,335.3 293.0,332.7 293.5,332.2 294.0,333.4 294.5,334.5 295.0,335.2 295.5,335.3 296.0,335.3 296.5,335.6 297.0,336.2 297.5,337.5 298.0,338.7 298.5,339.5 299.0,340.2 299.5,341.0 300.0,341.8 300.5,342.7 301.0,343.6 301.5,342.4 302.0,340.8 302.5,339.0 303.0,337.2 303.5,335.8 304.0,332.9 304.5,327.6 305.0,321.2 305.5,317.7 306.0,317.5 306.5,312.5 307.0,308.7 307.5,305.6 308.0,300.5 308.5,293.9 309.0,288.6 309.5,283.5 310.0,278.5 310.5,278.1 311.0,286.3 311.5,294.5 312.0,302.0 312.5,309.2 313.0,314.6 313.5,319.9 314.0,325.4 314.5,330.3 315.0,332.9 315.5,326.0 316.0,329.4 316.5,334.7 317.0,335.6 317.5,335.9 318.0,335.8 318.5,335.6 319.0,335.3 319.5,334.6 320.0,335.3 320.5,336.8 321.0,338.5 321.5,339.4 322.0,339.4 322.5,339.5 323.0,339.3 323.5,338.8 324.0,338.2 324.5,337.6 325.0,337.0 325.5,336.8 326.0,336.9 326.5,337.9 327.0,338.0 327.5,337.8 328.0,337.6 328.5,338.7 329.0,340.8 329.5,343.0 330.0,344.4 330.5,345.1 331.0,344.4 331.5,344.0 332.0,344.2 332.5,344.3 333.0,344.8 333.5,346.1 334.0,347.1 334.5,347.1 335.0,346.8 335.5,346.6 336.0,346.3 336.5,347.4 337.0,348.6 337.5,349.7 338.0,349.5 338.5,349.2 339.0,349.0 339.5,349.6 340.0,350.0 340.5,349.3 341.0,348.6 341.5,347.9 342.0,346.8 342.5,346.1 343.0,345.9 343.5,348.2 344.0,350.4 344.5,352.5 345.0,353.0 345.5,353.3 346.0,353.7 346.5,352.1 347.0,350.4 347.5,349.8 348.0,349.2 348.5,348.6 349.0,347.9 349.5,348.2 350.0,349.2 350.5,350.1 351.0,351.1 351.5,352.1 352.0,352.6 352.5,353.2 353.0,353.8 353.5,354.4 354.0,355.0 354.5,355.7 355.0,356.2 355.5,356.7 356.0,356.8 356.5,357.0 357.0,357.1 357.5,357.3 358.0,357.4 358.5,357.6 359.0,357.8 359.5,358.1 360.0,358.4 360.5,358.7 361.0,359.1 361.5,359.4 362.0,359.7 362.5,360.0 363.0,360.1 363.5,360.1 364.0,360.1 364.5,360.1 365.0,360.1 365.5,360.1 366.0,360.3 366.5,360.6 367.0,360.9 367.5,361.1 368.0,361.4 368.5,362.0 369.0,362.6 369.5,363.2 370.0,363.8 370.5,363.7 371.0,363.3 371.5,362.8 372.0,362.4 372.5,362.0 373.0,362.3 373.5,362.8 374.0,363.2 374.5,363.6 375.0,364.0 375.5,364.3 376.0,364.6 376.5,364.9 377.0,364.9 377.5,364.6 378.0,364.2 378.5,363.7 379.0,363.3 379.5,362.8 380.0,363.6 380.5,363.2 381.0,362.8 381.5,362.4 382.0,362.0 382.5,361.6 383.0,361.1 383.5,360.6 384.0,360.1 384.5,359.6 385.0,358.9 385.5,358.1 386.0,357.4 386.5,356.6 387.0,355.9 387.5,355.9 388.0,356.0 388.5,356.1 389.0,356.2 389.5,356.3 390.0,356.5 390.5,356.9 391.0,357.3 391.5,357.8 392.0,358.2 392.5,358.6 393.0,358.9 393.5,359.2 394.0,359.5 394.5,359.8 395.0,360.1 395.5,360.4 396.0,359.9 396.5,359.2 397.0,358.5 397.5,357.8 398.0,357.1 398.5,356.6 399.0,356.0 399.5,355.5 400.0,355.1 400.5,354.8 401.0,354.4 401.5,354.0 402.0,353.6 402.5,353.3 403.0,352.9 403.5,352.1 404.0,351.2 404.5,350.3 405.0,349.4 405.5,348.5 406.0,347.4 406.5,346.2 407.0,345.0 407.5,344.8 408.0,344.5 408.5,344.4 409.0,344.2 409.5,343.7 410.0,342.4 410.5,341.2 411.0,340.0 411.5,338.7 412.0,337.5 412.5,336.9 413.0,336.2 413.5,335.6 414.0,335.0 414.5,335.6 415.0,336.2 415.5,336.9 416.0,337.5 416.5,338.2 417.0,338.1 417.5,337.9 418.0,337.2 418.5,334.7 419.0,332.2 419.5,329.8 420.0,328.4 420.5,327.0 421.0,325.7 421.5,328.5 422.0,331.6 422.5,334.8 423.0,335.1 423.5,335.1 424.0,335.1 424.5,333.0 425.0,330.2 425.5,327.6 426.0,325.5 426.5,323.7 427.0,322.7 427.5,325.3 428.0,327.8 428.5,330.4 429.0,332.8 429.5,335.2 430.0,337.6 430.5,340.0 431.0,339.0 431.5,336.7 432.0,334.6 432.5,333.0 433.0,331.4 433.5,330.3 434.0,332.7 434.5,335.2 435.0,337.6 435.5,337.9 436.0,337.8 436.5,337.6 437.0,336.4 437.5,335.2 438.0,334.0 438.5,334.2 439.0,333.5 439.5,328.4 440.0,323.3 440.5,319.3 441.0,322.4 441.5,325.5 442.0,329.1 442.5,328.9 443.0,328.7 443.5,328.4 444.0,328.2 444.5,327.4 445.0,325.6 445.5,323.8 446.0,322.0 446.5,320.3 447.0,318.7 447.5,320.1 448.0,322.4 448.5,324.6 449.0,326.8 449.5,328.1 450.0,329.2 450.5,330.3 451.0,331.4 451.5,331.8 452.0,331.6 452.5,331.3 453.0,331.0 453.5,329.7 454.0,328.0 454.5,326.1 455.0,324.9 455.5,324.1 456.0,323.3 456.5,323.6 457.0,323.9 457.5,323.6 458.0,322.1 458.5,320.6 459.0,318.0 459.5,315.0 460.0,313.1 460.5,314.5 461.0,317.1 461.5,319.8 462.0,322.8 462.5,325.8 463.0,328.4 463.5,330.2 464.0,331.9 464.5,333.7 465.0,334.9 465.5,333.9 466.0,332.9 466.5,333.6 467.0,332.3 467.5,330.6 468.0,330.4 468.5,330.7 469.0,330.9 469.5,327.1 470.0,319.8 470.5,323.2 471.0,326.5 471.5,330.2 472.0,333.8 472.5,331.9 473.0,321.4 473.5,314.5 474.0,309.8 474.5,319.0 475.0,328.4 475.5,331.0 476.0,333.3 476.5,336.3 477.0,340.0 477.5,343.4 478.0,345.5 478.5,346.5 479.0,347.4 479.5,347.2 480.0,344.6 480.5,341.2 481.0,339.3 481.5,341.3 482.0,343.4 482.5,343.0 483.0,341.9 483.5,340.1 484.0,336.8 484.5,332.7 485.0,328.7 485.5,332.9 486.0,336.9 486.5,335.2 487.0,334.2 487.5,333.7 488.0,333.3 488.5,334.3 489.0,335.9 489.5,337.3 490.0,338.4 490.5,339.0 491.0,339.4 491.5,339.7 492.0,339.9 492.5,340.2 493.0,339.9 493.5,338.3 494.0,336.7 494.5,333.4 495.0,325.4 495.5,321.9 496.0,319.4 496.5,315.7 497.0,310.3 497.5,304.1 498.0,296.8 498.5,294.9 499.0,292.9 499.5,291.0 500.0,290.0 500.5,290.6 501.0,292.4 501.5,297.3 502.0,301.1 502.5,293.2 503.0,286.3 503.5,279.9 504.0,276.2 504.5,279.3 505.0,287.9 505.5,296.3 506.0,304.0 506.5,308.7 507.0,313.4 507.5,316.9 508.0,321.1 508.5,324.0 509.0,326.6 509.5,329.1 510.0,328.2 510.5,327.0 511.0,325.3 511.5,323.3 512.0,321.3 512.5,319.3 513.0,317.4 513.5,316.2 514.0,318.8 514.5,321.4 515.0,323.7 515.5,326.1 516.0,328.2 516.5,326.0 517.0,323.7 517.5,321.6 518.0,320.5 518.5,319.4 519.0,318.5 519.5,318.4 520.0,317.6 520.5,316.5 521.0,316.0 521.5,316.4 522.0,316.7 522.5,318.7 523.0,318.1 523.5,313.1 524.0,310.6 524.5,309.4 525.0,307.2 525.5,302.8 526.0,300.0 526.5,301.5 527.0,306.6 527.5,316.1 528.0,313.6 528.5,302.3 529.0,291.5 529.5,295.1 530.0,305.6 530.5,310.2 531.0,301.9 531.5,291.6 532.0,302.2 532.5,310.2 533.0,313.0 533.5,316.4 534.0,321.3 534.5,325.2 535.0,326.2 535.5,323.5 536.0,317.9 536.5,312.1 537.0,307.9 537.5,316.1 538.0,313.0 538.5,304.3 539.0,305.4 539.5,311.8 540.0,316.0 540.5,319.9 541.0,322.6 541.5,325.0 542.0,327.4 542.5,329.9 543.0,332.3 543.5,334.6 544.0,335.3 544.5,335.6 545.0,336.0 545.5,337.0 546.0,338.0 546.5,339.6 547.0,341.7 547.5,343.8 548.0,342.9 548.5,340.1 549.0,334.4 549.5,335.7 550.0,341.7 550.5,343.8 551.0,345.7 551.5,347.7 552.0,348.5 552.5,349.3 553.0,350.0 553.5,350.7 554.0,351.5 554.5,352.2 555.0,352.9 555.5,353.6 556.0,353.8 556.5,354.1 557.0,354.4 557.5,354.6 558.0,353.9 558.5,351.9 559.0,350.0 559.5,350.5 560.0,351.4 560.5,352.3 561.0,352.8 561.5,352.3 562.0,351.7 562.5,351.3 563.0,351.5 563.5,351.7 564.0,351.9 564.5,352.1 565.0,352.2 565.5,352.2 566.0,351.5 566.5,350.7 567.0,350.0 567.5,349.6 568.0,349.7 568.5,350.6 569.0,351.5 569.5,352.3 570.0,352.2 570.5,352.2 571.0,352.1 571.5,352.1 572.0,352.0 572.5,352.3 573.0,353.1 573.5,353.9 574.0,354.8 574.5,355.0 575.0,353.4 575.5,351.6 576.0,350.2 576.5,350.9 577.0,351.5 577.5,351.7 578.0,350.7 578.5,349.8 579.0,349.6 579.5,349.1 580.0,347.7 580.5,346.4 581.0,345.1 581.5,345.4 582.0,346.6 582.5,347.8 583.0,349.0 583.5,349.9 584.0,350.6 584.5,351.3 585.0,352.0 585.5,352.7 586.0,353.0 586.5,353.3 587.0,353.5 587.5,353.5 588.0,352.0 588.5,350.6 589.0,350.7 589.5,351.7 590.0,352.6 590.5,352.9 591.0,352.9 591.5,352.8 592.0,352.8 592.5,352.8 593.0,351.2 593.5,349.4 594.0,347.6 594.5,346.2 595.0,345.3 595.5,344.4 596.0,344.1 596.5,344.2 597.0,346.1 597.5,348.0 598.0,349.8 598.5,350.1 599.0,350.4 599.5,350.7 600.0,351.0 600.5,351.0 601.0,350.4 601.5,349.7 602.0,349.1 602.5,348.4 603.0,348.4 603.5,348.5 604.0,349.0 604.5,349.4 605.0,349.8 605.5,350.2 606.0,350.6 606.5,351.0 607.0,351.2 607.5,351.0 608.0,350.2 608.5,349.3 609.0,348.4 609.5,346.9 610.0,346.0 610.5,345.2 611.0,344.8 611.5,344.3 612.0,343.8 612.5,344.0 613.0,344.1 613.5,344.1 614.0,344.0 614.5,343.8 615.0,343.5 615.5,343.2 616.0,343.0 616.5,342.7 617.0,342.4 617.5,342.2 618.0,342.1 618.5,342.1 619.0,342.0 619.5,342.0 620.0,341.9 620.5,341.7 621.0,341.6 621.5,341.5 622.0,341.3 622.5,341.0 623.0,340.6 623.5,340.3 624.0,340.7 624.5,341.4 625.0,342.1 625.5,342.5 626.0,342.6 626.5,342.7 627.0,342.8 627.5,342.9 628.0,343.1 628.5,343.3 629.0,343.6 629.5,344.6 630.0,345.8 630.5,347.0 631.0,347.4 631.5,347.3 632.0,347.1 632.5,346.8 633.0,346.6 633.5,346.0 634.0,345.4 634.5,344.8 635.0,344.5 635.5,344.3 636.0,344.0 636.5,344.3 637.0,344.8 637.5,346.4" fill="none" stroke="#1a0300" stroke-width="1.15" stroke-linejoin="round"/>
<polyline points="81.5,387.8 82.0,387.1 82.5,384.3 83.0,380.6 83.5,378.5 84.0,377.4 84.5,376.8 85.0,376.3 85.5,376.0 86.0,375.6 86.5,375.3 87.0,374.9 87.5,374.2 88.0,373.5 88.5,372.8 89.0,372.1 89.5,371.5 90.0,371.5 90.5,371.5 91.0,371.5 91.5,371.5 92.0,371.8 92.5,372.0 93.0,372.0 93.5,372.0 94.0,372.0 94.5,371.7 95.0,371.6 95.5,371.6 96.0,371.6 96.5,371.6 97.0,371.6 97.5,371.4 98.0,371.2 98.5,371.0 99.0,370.8 99.5,370.5 100.0,370.0 100.5,369.4 101.0,368.8 101.5,368.6 102.0,368.5 102.5,368.3 103.0,368.0 103.5,367.6 104.0,367.2 104.5,366.8 105.0,366.3 105.5,366.1 106.0,365.6 106.5,365.2 107.0,365.0 107.5,364.8 108.0,364.7 108.5,364.4 109.0,364.0 109.5,363.5 110.0,363.1 110.5,362.8 111.0,362.7 111.5,362.5 112.0,362.3 112.5,362.0 113.0,361.8 113.5,362.1 114.0,362.4 114.5,362.7 115.0,362.4 115.5,362.4 116.0,362.3 116.5,362.6 117.0,363.0 117.5,363.3 118.0,363.7 118.5,364.0 119.0,364.3 119.5,364.7 120.0,365.1 120.5,365.4 121.0,365.8 121.5,366.3 122.0,366.9 122.5,367.5 123.0,368.0 123.5,368.6 124.0,368.8 124.5,369.0 125.0,369.2 125.5,369.3 126.0,369.4 126.5,369.6 127.0,369.7 127.5,369.8 128.0,370.2 128.5,370.8 129.0,371.4 129.5,372.1 130.0,372.8 130.5,372.3 131.0,371.6 131.5,370.9 132.0,370.1 132.5,369.9 133.0,369.7 133.5,369.5 134.0,369.8 134.5,370.3 135.0,370.8 135.5,370.9 136.0,370.9 136.5,370.4 137.0,369.9 137.5,369.4 138.0,369.1 138.5,368.8 139.0,368.6 139.5,369.0 140.0,369.5 140.5,370.1 141.0,369.8 141.5,369.3 142.0,368.8 142.5,368.6 143.0,368.7 143.5,368.9 144.0,369.0 144.5,369.1 145.0,369.0 145.5,369.1 146.0,369.3 146.5,369.5 147.0,369.7 147.5,369.9 148.0,369.6 148.5,369.2 149.0,368.7 149.5,368.2 150.0,367.7 150.5,367.9 151.0,368.3 151.5,368.8 152.0,372.1 152.5,369.0 153.0,369.1 153.5,368.8 154.0,368.4 154.5,368.1 155.0,367.5 155.5,366.9 156.0,366.5 156.5,366.9 157.0,367.7 157.5,368.5 158.0,368.9 158.5,368.9 159.0,368.7 159.5,368.4 160.0,368.2 160.5,368.0 161.0,367.8 161.5,367.6 162.0,367.5 162.5,367.4 163.0,367.3 163.5,367.3 164.0,367.2 164.5,367.1 165.0,367.4 165.5,368.1 166.0,369.1 166.5,370.8 167.0,372.4 167.5,373.3 168.0,374.0 168.5,374.7 169.0,375.2 169.5,375.7 170.0,376.1 170.5,376.6 171.0,377.2 171.5,377.6 172.0,376.6 172.5,375.7 173.0,374.7 173.5,373.3 174.0,372.6 174.5,372.7 175.0,372.5 175.5,372.1 176.0,371.9 176.5,371.7 177.0,371.5 177.5,371.3 178.0,371.1 178.5,370.9 179.0,370.7 179.5,370.5 180.0,369.3 180.5,369.1 181.0,368.9 181.5,368.7 182.0,368.7 182.5,369.4 183.0,370.1 183.5,370.8 184.0,371.5 184.5,372.2 185.0,373.1 185.5,374.0 186.0,374.2 186.5,373.1 187.0,372.0 187.5,371.5 188.0,371.0 188.5,371.0 189.0,371.1 189.5,371.2 190.0,371.2 190.5,371.0 191.0,370.9 191.5,370.7 192.0,370.8 192.5,370.9 193.0,371.1 193.5,371.3 194.0,371.5 194.5,371.5 195.0,371.4 195.5,371.4 196.0,371.1 196.5,370.7 197.0,370.3 197.5,370.1 198.0,369.8 198.5,369.7 199.0,369.5 199.5,369.4 200.0,369.2 200.5,369.1 201.0,369.0 201.5,368.7 202.0,368.4 202.5,368.1 203.0,367.9 203.5,367.8 204.0,368.0 204.5,368.3 205.0,368.5 205.5,368.3 206.0,368.1 206.5,367.9 207.0,367.7 207.5,367.7 208.0,367.9 208.5,368.0 209.0,368.1 209.5,368.2 210.0,368.1 210.5,367.9 211.0,367.7 211.5,367.6 212.0,367.7 212.5,368.2 213.0,368.6 213.5,369.0 214.0,369.2 214.5,369.3 215.0,369.1 215.5,369.0 216.0,368.8 216.5,368.6 217.0,368.7 217.5,368.7 218.0,368.5 218.5,368.4 219.0,368.2 219.5,368.1 220.0,368.0 220.5,367.9 221.0,367.8 221.5,367.9 222.0,368.0 222.5,368.6 223.0,369.2 223.5,369.7 224.0,370.1 224.5,368.9 225.0,367.5 225.5,366.4 226.0,366.4 226.5,366.5 227.0,366.6 227.5,366.6 228.0,366.1 228.5,365.2 229.0,364.2 229.5,363.7 230.0,363.2 230.5,362.7 231.0,362.3 231.5,362.4 232.0,362.6 232.5,362.7 233.0,362.9 233.5,363.0 234.0,363.2 234.5,363.3 235.0,363.5 235.5,363.6 236.0,363.7 236.5,363.7 237.0,363.8 237.5,363.8 238.0,363.8 238.5,363.8 239.0,363.8 239.5,363.7 240.0,363.6 240.5,363.6 241.0,364.1 241.5,365.1 242.0,366.9 242.5,366.9 243.0,365.8 243.5,365.5 244.0,365.3 244.5,365.0 245.0,364.7 245.5,364.7 246.0,365.0 246.5,365.5 247.0,366.0 247.5,366.1 248.0,366.0 248.5,365.8 249.0,365.7 249.5,365.4 250.0,365.2 250.5,365.0 251.0,364.7 251.5,364.5 252.0,364.8 252.5,365.1 253.0,365.4 253.5,365.7 254.0,366.0 254.5,366.0 255.0,366.1 255.5,366.1 256.0,366.0 256.5,366.3 257.0,366.8 257.5,367.4 258.0,367.6 258.5,367.4 259.0,367.2 259.5,367.1 260.0,366.9 260.5,366.8 261.0,366.8 261.5,366.7 262.0,366.7 262.5,366.7 263.0,366.7 263.5,366.8 264.0,367.0 264.5,367.2 265.0,367.4 265.5,367.8 266.0,368.2 266.5,368.5 267.0,368.8 267.5,369.0 268.0,369.3 268.5,369.5 269.0,369.7 269.5,369.9 270.0,369.7 270.5,369.5 271.0,369.3 271.5,369.1 272.0,369.0 272.5,369.0 273.0,369.0 273.5,369.0 274.0,369.0 274.5,369.0 275.0,369.0 275.5,369.0 276.0,369.0 276.5,369.0 277.0,369.0 277.5,369.1 278.0,369.2 278.5,369.3 279.0,369.5 279.5,369.6 280.0,369.8 280.5,370.4 281.0,371.0 281.5,372.2 282.0,373.9 282.5,374.6 283.0,373.5 283.5,372.3 284.0,371.4 284.5,371.2 285.0,371.3 285.5,371.6 286.0,372.3 286.5,373.0 287.0,373.7 287.5,374.7 288.0,375.8 288.5,376.8 289.0,378.3 289.5,379.3 290.0,379.1 290.5,378.3 291.0,377.7 291.5,377.8 292.0,378.0 292.5,378.9 293.0,380.1 293.5,380.3 294.0,379.6 294.5,378.9 295.0,378.4 295.5,378.1 296.0,377.8 296.5,377.4 297.0,376.8 297.5,376.6 298.0,376.4 298.5,376.6 299.0,376.7 299.5,376.8 300.0,376.4 300.5,376.1 301.0,375.8 301.5,376.6 302.0,377.5 302.5,378.5 303.0,379.1 303.5,379.5 304.0,380.6 304.5,382.9 305.0,385.6 305.5,386.4 306.0,385.5 306.5,387.0 307.0,387.9 307.5,388.5 308.0,390.3 308.5,392.7 309.0,394.6 309.5,396.3 310.0,398.4 310.5,398.3 311.0,393.9 311.5,389.4 312.0,385.5 312.5,382.3 313.0,380.0 313.5,377.7 314.0,375.5 314.5,374.1 315.0,373.8 315.5,378.3 316.0,377.7 316.5,374.9 317.0,374.1 317.5,373.6 318.0,373.2 318.5,372.8 319.0,372.5 319.5,372.4 320.0,373.0 320.5,373.9 321.0,374.6 321.5,374.7 322.0,374.4 322.5,374.0 323.0,373.8 323.5,373.7 324.0,373.6 324.5,373.4 325.0,373.3 325.5,373.0 326.0,372.8 326.5,373.1 327.0,373.7 327.5,374.6 328.0,375.5 328.5,375.8 329.0,375.6 329.5,375.4 330.0,375.6 330.5,376.2 331.0,376.1 331.5,375.8 332.0,375.2 332.5,374.7 333.0,374.2 333.5,374.2 334.0,374.3 334.5,374.0 335.0,373.5 335.5,373.0 336.0,372.5 336.5,372.1 337.0,371.7 337.5,371.3 338.0,370.1 338.5,368.9 339.0,367.6 339.5,366.6 340.0,365.9 340.5,365.8 341.0,365.6 341.5,365.4 342.0,365.0 342.5,364.3 343.0,363.5 343.5,363.8 344.0,364.2 344.5,364.7 345.0,364.2 345.5,363.7 346.0,363.2 346.5,363.7 347.0,364.1 347.5,363.6 348.0,363.2 348.5,362.7 349.0,362.3 349.5,362.3 350.0,362.6 350.5,362.8 351.0,363.1 351.5,363.4 352.0,363.5 352.5,363.5 353.0,363.5 353.5,363.5 354.0,363.6 354.5,363.6 355.0,363.5 355.5,363.5 356.0,363.6 356.5,363.8 357.0,363.9 357.5,364.0 358.0,364.1 358.5,364.2 359.0,364.4 359.5,364.5 360.0,364.6 360.5,364.6 361.0,364.7 361.5,364.8 362.0,364.8 362.5,364.9 363.0,364.8 363.5,364.7 364.0,364.7 364.5,364.7 365.0,364.6 365.5,364.6 366.0,364.7 366.5,364.8 367.0,364.8 367.5,365.0 368.0,365.1 368.5,365.4 369.0,365.7 369.5,365.9 370.0,366.2 370.5,366.2 371.0,365.9 371.5,365.7 372.0,365.4 372.5,365.2 373.0,365.3 373.5,365.5 374.0,365.7 374.5,365.9 375.0,366.1 375.5,366.2 376.0,366.3 376.5,366.4 377.0,366.7 377.5,366.8 378.0,366.8 378.5,366.9 379.0,366.9 379.5,366.9 380.0,366.5 380.5,366.6 381.0,366.8 381.5,366.9 382.0,367.0 382.5,367.3 383.0,367.7 383.5,368.1 384.0,368.5 384.5,368.9 385.0,369.1 385.5,369.1 386.0,369.2 386.5,369.2 387.0,369.3 387.5,369.1 388.0,368.9 388.5,368.6 389.0,368.4 389.5,368.2 390.0,367.9 390.5,367.7 391.0,367.6 391.5,367.4 392.0,367.2 392.5,367.1 393.0,367.0 393.5,366.9 394.0,366.8 394.5,366.7 395.0,366.6 395.5,366.5 396.0,366.8 396.5,367.1 397.0,367.4 397.5,367.7 398.0,368.0 398.5,368.3 399.0,368.5 399.5,368.7 400.0,369.0 400.5,369.3 401.0,369.6 401.5,370.0 402.0,370.3 402.5,370.6 403.0,370.7 403.5,371.0 404.0,371.4 404.5,371.8 405.0,372.2 405.5,372.6 406.0,372.8 406.5,373.1 407.0,373.4 407.5,373.2 408.0,373.0 408.5,372.8 409.0,372.7 409.5,372.7 410.0,373.1 410.5,373.4 411.0,373.8 411.5,374.2 412.0,374.7 412.5,375.5 413.0,376.4 413.5,377.2 414.0,378.0 414.5,378.3 415.0,378.5 415.5,378.7 416.0,378.9 416.5,379.1 417.0,378.9 417.5,378.6 418.0,378.6 418.5,379.4 419.0,380.2 419.5,381.0 420.0,381.3 420.5,381.6 421.0,381.9 421.5,380.0 422.0,378.4 422.5,376.7 423.0,376.6 423.5,376.6 424.0,376.6 424.5,377.7 425.0,379.0 425.5,380.4 426.0,381.5 426.5,382.5 427.0,383.1 427.5,381.8 428.0,380.6 428.5,379.4 429.0,378.2 429.5,377.0 430.0,375.8 430.5,374.6 431.0,375.1 431.5,376.3 432.0,377.5 432.5,378.4 433.0,379.4 433.5,380.0 434.0,379.0 434.5,378.0 435.0,377.0 435.5,377.1 436.0,377.0 436.5,376.7 437.0,376.9 437.5,377.2 438.0,377.4 438.5,376.9 439.0,376.9 439.5,379.1 440.0,381.2 440.5,382.9 441.0,381.0 441.5,379.1 442.0,377.4 442.5,377.7 443.0,377.9 443.5,378.1 444.0,378.3 444.5,378.9 445.0,379.9 445.5,381.0 446.0,382.1 446.5,383.1 447.0,384.2 447.5,384.1 448.0,383.5 448.5,383.0 449.0,382.5 449.5,382.2 450.0,381.7 450.5,381.3 451.0,380.9 451.5,380.8 452.0,380.4 452.5,380.0 453.0,379.5 453.5,378.6 454.0,377.8 454.5,377.0 455.0,376.6 455.5,376.3 456.0,376.1 456.5,375.3 457.0,374.5 457.5,374.9 458.0,375.8 458.5,376.8 459.0,377.5 459.5,378.4 460.0,378.6 460.5,377.2 461.0,376.3 461.5,375.5 462.0,374.5 462.5,373.5 463.0,372.4 463.5,371.7 464.0,371.0 464.5,370.2 465.0,369.3 465.5,368.8 466.0,368.4 466.5,368.9 467.0,370.4 467.5,372.0 468.0,372.9 468.5,373.2 469.0,373.6 469.5,375.9 470.0,378.8 470.5,376.5 471.0,374.1 471.5,371.6 472.0,368.8 472.5,368.2 473.0,371.9 473.5,373.8 474.0,376.0 474.5,373.1 475.0,370.1 475.5,370.4 476.0,370.6 476.5,370.4 477.0,369.8 477.5,369.1 478.0,368.9 478.5,369.3 479.0,369.7 479.5,370.7 480.0,372.6 480.5,374.2 481.0,375.0 481.5,373.9 482.0,372.7 482.5,372.8 483.0,373.2 483.5,373.3 484.0,374.0 484.5,375.0 485.0,376.0 485.5,373.0 486.0,371.0 486.5,371.9 487.0,372.4 487.5,372.7 488.0,373.0 488.5,372.8 489.0,372.4 489.5,372.0 490.0,371.8 490.5,371.4 491.0,370.9 491.5,370.6 492.0,370.2 492.5,369.8 493.0,369.4 493.5,369.6 494.0,369.8 494.5,370.8 495.0,374.7 495.5,377.1 496.0,378.9 496.5,381.1 497.0,383.4 497.5,386.2 498.0,389.3 498.5,389.3 499.0,389.4 499.5,389.4 500.0,389.3 500.5,390.1 501.0,390.4 501.5,389.2 502.0,387.4 502.5,390.2 503.0,392.6 503.5,394.7 504.0,396.5 504.5,395.3 505.0,391.3 505.5,387.4 506.0,383.5 506.5,380.9 507.0,378.4 507.5,376.5 508.0,374.8 508.5,374.2 509.0,373.8 509.5,373.3 510.0,374.8 510.5,376.3 511.0,378.2 511.5,380.2 512.0,382.1 512.5,383.9 513.0,385.6 513.5,386.8 514.0,385.1 514.5,383.4 515.0,381.8 515.5,380.3 516.0,378.6 516.5,379.0 517.0,379.6 517.5,380.2 518.0,380.7 518.5,381.1 519.0,381.5 519.5,381.4 520.0,381.0 520.5,380.5 521.0,379.6 521.5,378.3 522.0,377.0 522.5,376.3 523.0,377.0 523.5,379.8 524.0,381.3 524.5,382.2 525.0,383.5 525.5,384.3 526.0,383.8 526.5,381.1 527.0,378.8 527.5,375.2 528.0,377.6 528.5,383.5 529.0,388.6 529.5,386.4 530.0,381.2 530.5,379.5 531.0,384.3 531.5,389.6 532.0,383.7 532.5,379.0 533.0,376.9 533.5,374.6 534.0,372.0 534.5,370.2 535.0,369.9 535.5,371.4 536.0,374.3 536.5,377.0 537.0,378.9 537.5,374.6 538.0,375.9 538.5,380.2 539.0,380.0 539.5,377.3 540.0,375.6 540.5,374.0 541.0,372.7 541.5,371.5 542.0,370.2 542.5,368.9 543.0,367.6 543.5,366.5 544.0,366.1 544.5,366.0 545.0,365.8 545.5,366.0 546.0,366.2 546.5,366.1 547.0,366.1 547.5,366.2 548.0,367.8 548.5,370.3 549.0,373.4 549.5,373.0 550.0,370.2 550.5,369.5 551.0,368.7 551.5,368.0 552.0,367.8 552.5,367.7 553.0,367.5 553.5,367.6 554.0,367.8 554.5,367.9 555.0,368.0 555.5,368.2 556.0,368.7 556.5,369.1 557.0,369.6 557.5,370.1 558.0,370.1 558.5,369.6 559.0,369.1 559.5,369.7 560.0,370.1 560.5,370.4 561.0,370.6 561.5,370.3 562.0,369.9 562.5,369.6 563.0,369.6 563.5,369.6 564.0,369.6 564.5,369.6 565.0,369.5 565.5,369.3 566.0,369.5 566.5,369.7 567.0,370.0 567.5,370.4 568.0,370.7 568.5,370.5 569.0,370.4 569.5,370.3 570.0,370.1 570.5,369.9 571.0,369.7 571.5,369.5 572.0,369.3 572.5,369.2 573.0,369.0 573.5,368.9 574.0,368.7 574.5,368.9 575.0,369.5 575.5,370.1 576.0,370.5 576.5,369.8 577.0,369.1 577.5,368.3 578.0,368.0 578.5,367.8 579.0,367.9 579.5,368.2 580.0,369.0 580.5,369.8 581.0,370.6 581.5,370.8 582.0,370.5 582.5,370.2 583.0,370.0 583.5,369.8 584.0,369.7 584.5,369.5 585.0,369.4 585.5,369.3 586.0,369.1 586.5,368.9 587.0,368.7 587.5,368.6 588.0,369.3 588.5,369.9 589.0,369.9 589.5,369.5 590.0,369.1 590.5,369.0 591.0,369.1 591.5,369.1 592.0,369.2 592.5,369.3 593.0,369.4 593.5,369.6 594.0,369.7 594.5,370.1 595.0,370.3 595.5,370.5 596.0,370.9 596.5,371.3 597.0,370.9 597.5,370.4 598.0,370.0 598.5,370.0 599.0,370.0 599.5,370.0 600.0,370.1 600.5,370.2 601.0,370.4 601.5,370.6 602.0,370.9 602.5,371.1 603.0,371.1 603.5,371.0 604.0,371.0 604.5,370.9 605.0,370.9 605.5,370.9 606.0,370.9 606.5,370.9 607.0,370.8 607.5,370.8 608.0,371.2 608.5,371.5 609.0,371.8 609.5,371.9 610.0,371.7 610.5,371.5 611.0,371.4 611.5,371.2 612.0,371.1 612.5,371.4 613.0,371.7 613.5,372.0 614.0,372.4 614.5,372.7 615.0,372.9 615.5,373.1 616.0,373.3 616.5,373.5 617.0,373.7 617.5,373.9 618.0,374.0 618.5,374.1 619.0,374.1 619.5,374.2 620.0,374.3 620.5,374.4 621.0,374.5 621.5,374.6 622.0,374.7 622.5,374.9 623.0,375.1 623.5,375.3 624.0,375.2 624.5,374.9 625.0,374.6 625.5,374.4 626.0,374.4 626.5,374.3 627.0,374.3 627.5,374.2 628.0,374.2 628.5,374.1 629.0,374.0 629.5,373.6 630.0,373.0 630.5,372.5 631.0,372.4 631.5,372.5 632.0,372.4 632.5,372.4 633.0,372.4 633.5,372.2 634.0,372.0 634.5,371.8 635.0,371.7 635.5,371.7 636.0,371.7 636.5,371.4 637.0,371.0 637.5,371.2" fill="none" stroke="#1a0300" stroke-width="1.15" stroke-linejoin="round"/>
<line x1="637.4" y1="77.8" x2="637.4" y2="98.7" stroke="#102828" stroke-width="0.9"/>
<line x1="637.4" y1="346.4" x2="637.4" y2="371.2" stroke="#102828" stroke-width="0.9"/>
<rect x="81.5" y="234" width="543.5" height="7" fill="#ff2000"/>
<rect x="625.0" y="234" width="6.0" height="7" fill="#ff9900"/>
<rect x="631.0" y="234" width="5.5" height="7" fill="#ffee00"/>
<rect x="636.5" y="234" width="1.0" height="7" fill="#1f6f6f"/>
<path d="M81.5,234.5H637.5M81.5,240.5H637.5M81.5,234V241" fill="none" stroke="#000" stroke-opacity="0.2" stroke-width="1" shape-rendering="crispEdges"/>
<path d="M637.5,234.5H648.5V240.5H637.5" fill="none" stroke="#000" stroke-opacity="0.36" stroke-width="1" shape-rendering="crispEdges"/>
<g font-family="Liberation Sans, sans-serif" font-weight="bold" text-rendering="geometricPrecision"><text x="82" y="21.7" font-size="21" text-anchor="start" fill="#000" stroke="#000" stroke-width="0.25" >2026/01/23</text><text x="235.5" y="21.7" font-size="21.55" text-anchor="start" fill="#000" stroke="#000" stroke-width="0.25" >AE(11) (Real-Time)</text><text x="647" y="22.5" font-size="11.3" text-anchor="end" fill="#000" stroke="#000" stroke-width="0.25" >WDC for Geomagnetism, Kyoto</text><text x="11.5" y="69.2" font-size="20.6" text-anchor="start" fill="#000" stroke="#000" stroke-width="0.25" >AU</text><text x="11.5" y="120.7" font-size="20.6" text-anchor="start" fill="#000" stroke="#000" stroke-width="0.25" >AL</text><text x="11.5" y="346" font-size="20.6" text-anchor="start" fill="#000" stroke="#000" stroke-width="0.25" >AE</text><text x="11.5" y="388.8" font-size="20.6" text-anchor="start" fill="#000" stroke="#000" stroke-width="0.25" >AO</text><text x="74.6" y="31.5" font-size="12" text-anchor="end" fill="#000" stroke="#000" stroke-width="0.25" letter-spacing="0.45">1000</text><text x="74.6" y="59.8" font-size="12" text-anchor="end" fill="#000" stroke="#000" stroke-width="0.25" letter-spacing="0.45">500</text><text x="74.6" y="88.1" font-size="12" text-anchor="end" fill="#000" stroke="#000" stroke-width="0.25" letter-spacing="0.45">0</text><text x="74.6" y="116.4" font-size="12" text-anchor="end" fill="#000" stroke="#000" stroke-width="0.25" letter-spacing="0.45">- 500</text><text x="74.6" y="144.7" font-size="12" text-anchor="end" fill="#000" stroke="#000" stroke-width="0.25" letter-spacing="0.45">- 1000</text><text x="74.6" y="173.0" font-size="12" text-anchor="end" fill="#000" stroke="#000" stroke-width="0.25" letter-spacing="0.45">- 1500</text><text x="74.6" y="201.3" font-size="12" text-anchor="end" fill="#000" stroke="#000" stroke-width="0.25" letter-spacing="0.45">- 2000</text><text x="76.2" y="43.2" font-size="12" text-anchor="end" fill="#000" stroke="#000" stroke-width="0.25" letter-spacing="0.4">(nT)</text><text x="74.6" y="258.0" font-size="12" text-anchor="end" fill="#000" stroke="#000" stroke-width="0.25" letter-spacing="0.45">2000</text><text x="74.6" y="286.4" font-size="12" text-anchor="end" fill="#000" stroke="#000" stroke-width="0.25" letter-spacing="0.45">1500</text><text x="74.6" y="314.8" font-size="12" text-anchor="end" fill="#000" stroke="#000" stroke-width="0.25" letter-spacing="0.45">1000</text><text x="74.6" y="343.2" font-size="12" text-anchor="end" fill="#000" stroke="#000" stroke-width="0.25" letter-spacing="0.45">500</text><text x="74.6" y="371.6" font-size="12" text-anchor="end" fill="#000" stroke="#000" stroke-width="0.25" letter-spacing="0.45">0</text><text x="74.6" y="400.0" font-size="12" text-anchor="end" fill="#000" stroke="#000" stroke-width="0.25" letter-spacing="0.45">- 500</text><text x="76.2" y="270" font-size="12" text-anchor="end" fill="#000" stroke="#000" stroke-width="0.25" letter-spacing="0.4">(nT)</text><text x="81.5" y="208.3" font-size="12" text-anchor="middle" fill="#000" stroke="#000" stroke-width="0.25" >00</text><text x="81.5" y="406.9" font-size="12" text-anchor="middle" fill="#000" stroke="#000" stroke-width="0.25" >00</text><text x="223.2" y="208.3" font-size="12" text-anchor="middle" fill="#000" stroke="#000" stroke-width="0.25" >06</text><text x="223.2" y="406.9" font-size="12" text-anchor="middle" fill="#000" stroke="#000" stroke-width="0.25" >06</text><text x="365.0" y="208.3" font-size="12" text-anchor="middle" fill="#000" stroke="#000" stroke-width="0.25" >12</text><text x="365.0" y="406.9" font-size="12" text-anchor="middle" fill="#000" stroke="#000" stroke-width="0.25" >12</text><text x="506.8" y="208.3" font-size="12" text-anchor="middle" fill="#000" stroke="#000" stroke-width="0.25" >18</text><text x="506.8" y="406.9" font-size="12" text-anchor="middle" fill="#000" stroke="#000" stroke-width="0.25" >18</text><text x="648.5" y="208.3" font-size="12" text-anchor="middle" fill="#000" stroke="#000" stroke-width="0.25" >24</text><text x="648.5" y="406.9" font-size="12" text-anchor="middle" fill="#000" stroke="#000" stroke-width="0.25" >24</text><text x="365" y="222" font-size="14.5" text-anchor="middle" fill="#000" stroke="#000" stroke-width="0.25" >U T</text><text x="365" y="421" font-size="14.5" text-anchor="middle" fill="#000" stroke="#000" stroke-width="0.25" >U T</text><text x="649.6" y="444.2" font-size="11.3" text-anchor="end" fill="#000" stroke="#000" stroke-width="0.25" >[Created at 2026-01-23 23:40UT]</text><text x="669.3" y="64.7" font-size="11.6" text-anchor="end" fill="#ff1493" stroke="#ff1493" stroke-width="0.25" >12</text><text x="669.3" y="262.7" font-size="11.6" text-anchor="end" fill="#ff1493" stroke="#ff1493" stroke-width="0.25" >12</text><text x="669.3" y="76.8" font-size="11.6" text-anchor="end" fill="#ff2020" stroke="#ff2020" stroke-width="0.25" >11</text><text x="669.3" y="274.8" font-size="11.6" text-anchor="end" fill="#ff2020" stroke="#ff2020" stroke-width="0.25" >11</text><text x="669.3" y="88.8" font-size="11.6" text-anchor="end" fill="#ff9900" stroke="#ff9900" stroke-width="0.25" >10</text><text x="669.3" y="286.8" font-size="11.6" text-anchor="end" fill="#ff9900" stroke="#ff9900" stroke-width="0.25" >10</text><text x="669.3" y="100.9" font-size="11.6" text-anchor="end" fill="#ffff00" stroke="#ffff00" stroke-width="0.25" >9</text><text x="669.3" y="298.9" font-size="11.6" text-anchor="end" fill="#ffff00" stroke="#ffff00" stroke-width="0.25" >9</text><text x="669.3" y="112.9" font-size="11.6" text-anchor="end" fill="#99ff00" stroke="#99ff00" stroke-width="0.25" >8</text><text x="669.3" y="310.9" font-size="11.6" text-anchor="end" fill="#99ff00" stroke="#99ff00" stroke-width="0.25" >8</text><text x="669.3" y="125.0" font-size="11.6" text-anchor="end" fill="#10f0d8" stroke="#10f0d8" stroke-width="0.25" >7</text><text x="669.3" y="322.9" font-size="11.6" text-anchor="end" fill="#10f0d8" stroke="#10f0d8" stroke-width="0.25" >7</text><text x="669.3" y="137.0" font-size="11.6" text-anchor="end" fill="#1e74ff" stroke="#1e74ff" stroke-width="0.25" >6</text><text x="669.3" y="335.0" font-size="11.6" text-anchor="end" fill="#1e74ff" stroke="#1e74ff" stroke-width="0.25" >6</text><text x="669.3" y="149.1" font-size="11.6" text-anchor="end" fill="#3300ff" stroke="#3300ff" stroke-width="0.25" >5</text><text x="669.3" y="347.1" font-size="11.6" text-anchor="end" fill="#3300ff" stroke="#3300ff" stroke-width="0.25" >5</text><text x="669.3" y="161.1" font-size="11.6" text-anchor="end" fill="#ff00ff" stroke="#ff00ff" stroke-width="0.25" >4</text><text x="669.3" y="359.1" font-size="11.6" text-anchor="end" fill="#ff00ff" stroke="#ff00ff" stroke-width="0.25" >4</text><text x="669.3" y="173.2" font-size="11.6" text-anchor="end" fill="#000000" stroke="#000000" stroke-width="0.25" >3</text><text x="669.3" y="371.1" font-size="11.6" text-anchor="end" fill="#000000" stroke="#000000" stroke-width="0.25" >3</text><text x="669.3" y="185.2" font-size="11.6" text-anchor="end" fill="#555555" stroke="#555555" stroke-width="0.25" >2</text><text x="669.3" y="383.2" font-size="11.6" text-anchor="end" fill="#555555" stroke="#555555" stroke-width="0.25" >2</text><text x="669.3" y="197.2" font-size="11.6" text-anchor="end" fill="#cccccc" stroke="#cccccc" stroke-width="0.25" >1</text><text x="669.3" y="395.2" font-size="11.6" text-anchor="end" fill="#cccccc" stroke="#cccccc" stroke-width="0.25" >1</text></g>
</svg>
</body></html>
